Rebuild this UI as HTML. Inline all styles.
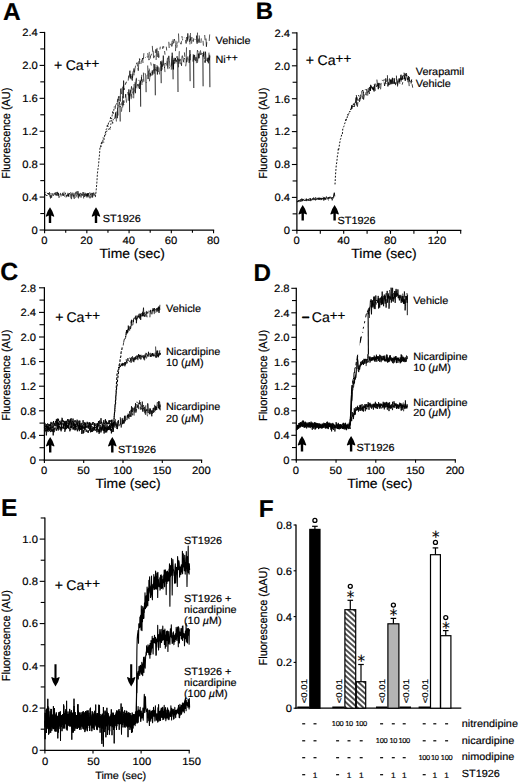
<!DOCTYPE html>
<html><head><meta charset="utf-8"><title>Figure</title><style>html,body{margin:0;padding:0;background:#fff}svg{display:block}text{stroke:#000;stroke-width:.18px}</style></head><body>
<svg width="520" height="783" viewBox="0 0 520 783" font-family='"Liberation Sans", Arial, Helvetica, sans-serif' fill="#000" text-rendering="geometricPrecision">
<rect width="520" height="783" fill="#fff"/>
<text transform="translate(2.90 19.70) scale(1 1)" font-size="24.5" text-anchor="start" font-weight="bold" >A</text>
<line x1="44.60" y1="31.88" x2="44.60" y2="230.60" stroke="#000" stroke-width="1.25"/>
<line x1="44.00" y1="230.00" x2="214.16" y2="230.00" stroke="#000" stroke-width="1.25"/>
<line x1="39.60" y1="230.00" x2="44.60" y2="230.00" stroke="#000" stroke-width="1.1"/>
<text transform="translate(37.80 233.85) scale(1.06 1)" font-size="10.6" text-anchor="end" font-weight="normal" >0</text>
<line x1="40.30" y1="213.54" x2="44.60" y2="213.54" stroke="#000" stroke-width="1.1"/>
<line x1="39.60" y1="197.08" x2="44.60" y2="197.08" stroke="#000" stroke-width="1.1"/>
<text transform="translate(37.80 200.93) scale(1.06 1)" font-size="10.6" text-anchor="end" font-weight="normal" >0.4</text>
<line x1="40.30" y1="180.62" x2="44.60" y2="180.62" stroke="#000" stroke-width="1.1"/>
<line x1="39.60" y1="164.16" x2="44.60" y2="164.16" stroke="#000" stroke-width="1.1"/>
<text transform="translate(37.80 168.01) scale(1.06 1)" font-size="10.6" text-anchor="end" font-weight="normal" >0.8</text>
<line x1="40.30" y1="147.70" x2="44.60" y2="147.70" stroke="#000" stroke-width="1.1"/>
<line x1="39.60" y1="131.24" x2="44.60" y2="131.24" stroke="#000" stroke-width="1.1"/>
<text transform="translate(37.80 135.09) scale(1.06 1)" font-size="10.6" text-anchor="end" font-weight="normal" >1.2</text>
<line x1="40.30" y1="114.78" x2="44.60" y2="114.78" stroke="#000" stroke-width="1.1"/>
<line x1="39.60" y1="98.32" x2="44.60" y2="98.32" stroke="#000" stroke-width="1.1"/>
<text transform="translate(37.80 102.17) scale(1.06 1)" font-size="10.6" text-anchor="end" font-weight="normal" >1.6</text>
<line x1="40.30" y1="81.86" x2="44.60" y2="81.86" stroke="#000" stroke-width="1.1"/>
<line x1="39.60" y1="65.40" x2="44.60" y2="65.40" stroke="#000" stroke-width="1.1"/>
<text transform="translate(37.80 69.25) scale(1.06 1)" font-size="10.6" text-anchor="end" font-weight="normal" >2.0</text>
<line x1="40.30" y1="48.94" x2="44.60" y2="48.94" stroke="#000" stroke-width="1.1"/>
<line x1="39.60" y1="32.48" x2="44.60" y2="32.48" stroke="#000" stroke-width="1.1"/>
<text transform="translate(37.80 36.33) scale(1.06 1)" font-size="10.6" text-anchor="end" font-weight="normal" >2.4</text>
<line x1="44.60" y1="230.00" x2="44.60" y2="233.30" stroke="#000" stroke-width="1.1"/>
<text transform="translate(44.30 243.80) scale(1.06 1)" font-size="10.6" text-anchor="middle" font-weight="normal" >0</text>
<line x1="65.72" y1="230.00" x2="65.72" y2="232.70" stroke="#000" stroke-width="1.1"/>
<line x1="86.84" y1="230.00" x2="86.84" y2="233.30" stroke="#000" stroke-width="1.1"/>
<text transform="translate(86.54 243.80) scale(1.06 1)" font-size="10.6" text-anchor="middle" font-weight="normal" >20</text>
<line x1="107.96" y1="230.00" x2="107.96" y2="232.70" stroke="#000" stroke-width="1.1"/>
<line x1="129.08" y1="230.00" x2="129.08" y2="233.30" stroke="#000" stroke-width="1.1"/>
<text transform="translate(128.78 243.80) scale(1.06 1)" font-size="10.6" text-anchor="middle" font-weight="normal" >40</text>
<line x1="150.20" y1="230.00" x2="150.20" y2="232.70" stroke="#000" stroke-width="1.1"/>
<line x1="171.32" y1="230.00" x2="171.32" y2="233.30" stroke="#000" stroke-width="1.1"/>
<text transform="translate(171.02 243.80) scale(1.06 1)" font-size="10.6" text-anchor="middle" font-weight="normal" >60</text>
<line x1="192.44" y1="230.00" x2="192.44" y2="232.70" stroke="#000" stroke-width="1.1"/>
<line x1="213.56" y1="230.00" x2="213.56" y2="233.30" stroke="#000" stroke-width="1.1"/>
<text transform="translate(213.26 243.80) scale(1.06 1)" font-size="10.6" text-anchor="middle" font-weight="normal" >80</text>
<text transform="translate(10.40 133.20) rotate(-90) scale(1 1.06)" font-size="10.95" text-anchor="middle">Fluorescence (AU)</text>
<text transform="translate(132.20 258.30) scale(1.04 1)" font-size="13.4" text-anchor="middle" font-weight="normal" >Time (sec)</text>
<text transform="translate(53.90 70.00)" font-size="14.1" word-spacing="-0.4">+ Ca<tspan font-size="13.4" dy="-1.9">++</tspan></text>
<text transform="translate(215.50 43.60) scale(1.04 1)" font-size="10.45" text-anchor="start" font-weight="normal" >Vehicle</text>
<text transform="translate(215.50 62.50) scale(1.04 1)" font-size="10.45" text-anchor="start" font-weight="normal" >Ni<tspan font-size="10" dy="-1.7">++</tspan></text>
<text transform="translate(102.80 222.20) scale(1.04 1)" font-size="10.45" text-anchor="start" font-weight="normal" >ST1926</text>
<path d="M50.00 207.20Q52.90 211.10 54.30 216.20L53.80 216.70L51.20 215.60L51.20 223.00L48.80 223.00L48.80 215.60L46.20 216.70L45.70 216.20Q47.10 211.10 50.00 207.20Z" fill="#000"/>
<path d="M96.00 207.20Q98.90 211.10 100.30 216.20L99.80 216.70L97.20 215.60L97.20 223.00L94.80 223.00L94.80 215.60L92.20 216.70L91.70 216.20Q93.10 211.10 96.00 207.20Z" fill="#000"/>
<path d="M44.6 195.0L45.1 193.9L45.5 194.9L46.0 195.1L46.5 196.0L46.9 194.9M47.4 193.0L47.9 194.0L48.3 193.1L48.8 194.2L49.2 194.0L49.7 194.3L50.2 197.1M50.6 193.3L51.1 193.9M51.6 193.9M52.0 197.1M52.5 197.2M53.0 195.9L53.4 195.3M53.9 194.2M54.4 194.7M54.8 193.8M55.3 195.6L55.8 194.2M56.2 194.0L56.7 195.6L57.1 192.1M57.6 193.8L58.1 192.8L58.5 195.5L59.0 195.7M59.5 195.1L59.9 194.8L60.4 193.7L60.9 194.2L61.3 195.3M61.8 196.0M62.3 195.4L62.7 192.8L63.2 195.8L63.7 194.2M64.1 194.0M64.6 196.8L65.0 194.5L65.5 192.7M66.0 197.6L66.4 195.1M66.9 194.8L67.4 195.8L67.8 193.9L68.3 194.7L68.8 196.8L69.2 193.4L69.7 193.6M70.2 193.2L70.6 192.5L71.1 194.1L71.5 194.4L72.0 196.5M72.5 193.7L72.9 195.5L73.4 195.3L73.9 196.5L74.3 196.0L74.8 195.4L75.3 192.7M75.7 197.6L76.2 196.8L76.7 194.3M77.1 192.5M77.6 193.8L78.1 197.4L78.5 198.3L79.0 194.1L79.4 195.7L79.9 196.3L80.4 193.2L80.8 193.0L81.3 194.4L81.8 194.2M82.2 194.0M82.7 192.2M83.2 193.7M83.6 193.8L84.1 193.8L84.6 196.9L85.0 192.7L85.5 193.2L86.0 193.8L86.4 197.5M86.9 195.5L87.3 193.4L87.8 197.3L88.3 194.9L88.7 193.1L89.2 196.6M89.7 192.2L90.1 193.8L90.6 194.8L91.1 194.1L91.5 193.6L92.0 194.4L92.5 192.9L92.9 195.6L93.4 195.2M93.9 193.1M94.3 194.6M94.8 195.9L95.2 193.2" fill="none" stroke="#000" stroke-width="0.65" stroke-linejoin="round"/>
<path d="M45.2 192.7L45.8 192.2L46.3 192.2M46.8 194.9L47.3 195.8M47.9 192.9L48.4 194.4L48.9 194.4L49.5 192.3L50.0 195.0L50.5 198.4L51.0 195.2L51.6 197.7L52.1 193.3L52.6 194.1L53.2 195.6L53.7 194.6L54.2 193.2L54.7 194.5L55.3 192.4L55.8 194.7L56.3 192.9L56.8 192.2L57.4 192.0L57.9 195.7L58.4 193.2L59.0 197.7L59.5 196.4M60.0 197.8M60.5 192.9L61.1 196.6M61.6 194.6M62.1 194.9M62.7 194.7L63.2 195.6L63.7 194.2L64.2 191.7M64.8 194.5L65.3 193.7L65.8 193.0M66.4 194.9L66.9 196.7L67.4 195.5" fill="none" stroke="#000" stroke-width="0.65" stroke-linejoin="round"/>
<path d="M67.8 192.8L68.4 196.1L68.9 193.5L69.4 193.7L69.9 193.1M70.5 194.1L71.0 198.5M71.5 199.2L72.1 192.6M72.6 190.2M73.1 192.7L73.6 196.8L74.2 198.7L74.7 197.8L75.2 192.9L75.8 192.4L76.3 191.6L76.8 194.1L77.3 194.3L77.9 191.1L78.4 192.9L78.9 197.0M79.4 193.4L80.0 196.0L80.5 196.2M81.0 197.8L81.6 194.3L82.1 194.2L82.6 195.6L83.1 192.0L83.7 198.5M84.2 194.6L84.7 194.3L85.3 193.9L85.8 196.0L86.3 196.2L86.8 193.8L87.4 196.0L87.9 193.1L88.4 194.8L89.0 195.7L89.5 198.3M90.0 194.2M90.5 198.3L91.1 192.8M91.6 197.4L92.1 194.5L92.6 197.5L93.2 194.2L93.7 192.6L94.2 195.0L94.8 195.2M95.3 193.2" fill="none" stroke="#000" stroke-width="0.7" stroke-linejoin="round"/>
<path d="M95.3 197.1L95.8 193.9L96.3 189.1L96.9 182.0L97.4 173.6L97.9 169.6L98.5 165.3L99.0 159.2L99.5 154.7L100.0 147.2L100.6 147.3L101.1 143.6L101.6 142.5L102.2 142.9L102.7 142.2L103.2 137.7L103.7 138.3L104.3 138.0L104.8 135.4L105.3 133.7L105.8 130.1L106.4 129.2L106.9 128.4L107.4 124.4L108.0 126.6L108.5 122.6L109.0 122.8L109.5 122.1L110.1 121.1L110.6 116.9L111.1 118.7L111.7 118.7L112.2 115.4L112.7 111.6L113.2 113.8L113.8 110.2L114.3 106.5" fill="none" stroke="#000" stroke-width="0.85" stroke-linejoin="round" stroke-dasharray="2 1.4"/>
<path d="M100.6 147.4L101.2 146.3L101.8 141.3L102.5 143.3L103.1 141.6L103.7 142.4L104.4 136.6L105.0 133.6L105.6 134.5L106.3 133.1L106.9 130.7L107.5 129.6L108.2 129.8L108.8 129.1L109.4 127.5L110.1 129.9L110.7 125.2L111.3 121.3L112.0 119.8L112.6 124.2L113.2 119.7L113.9 118.6" fill="none" stroke="#000" stroke-width="0.8" stroke-linejoin="round" stroke-dasharray="1.6 1.8"/>
<path d="M114.3 111.4M114.7 104.9M115.1 109.0L115.6 105.3L116.0 104.4M116.4 106.9M116.8 102.2M117.3 102.0L117.7 98.8M118.1 101.3L118.5 96.4L118.9 97.8M119.4 97.1M119.8 96.0L120.2 101.5L120.6 88.8M121.1 88.2L121.5 94.1M121.9 98.5M122.3 91.5M122.7 86.7L123.2 98.3L123.6 80.6L124.0 90.0L124.4 88.3M124.9 88.3M125.3 84.0M125.7 83.0L126.1 83.3L126.5 81.7M127.0 84.6M127.4 79.3M127.8 81.9M128.2 80.6L128.7 75.5M129.1 77.5L129.5 75.0L129.9 70.7L130.3 78.4L130.8 74.1L131.2 79.4M131.6 67.7M132.0 77.7M132.5 78.0L132.9 73.8M133.3 66.4M133.7 69.2L134.1 75.3M134.6 67.7M135.0 70.3M135.4 70.1M135.8 60.0M136.3 64.2L136.7 63.2L137.1 62.6L137.5 66.5M138.0 62.3M138.4 64.9M138.8 73.0M139.2 64.0L139.6 58.6M140.1 64.4M140.5 58.7M140.9 64.0L141.3 60.9L141.8 60.6L142.2 59.6L142.6 58.0L143.0 63.0M143.4 59.2L143.9 53.2M144.3 56.3M144.7 59.7M145.1 57.9L145.6 57.3M146.0 56.1M146.4 56.7M146.8 56.0M147.2 56.4L147.7 57.6M148.1 52.8M148.5 52.6M148.9 60.0L149.4 59.1M149.8 54.1M150.2 58.7L150.6 55.8L151.0 55.7L151.5 53.8M151.9 56.1M152.3 45.9L152.7 51.4L153.2 51.1L153.6 58.2M154.0 58.2M154.4 52.7M154.8 50.4M155.3 52.7L155.7 49.2M156.1 60.0L156.5 49.3M157.0 47.9L157.4 57.0M157.8 50.5M158.2 51.0L158.6 52.7L159.1 57.4M159.5 54.7M159.9 49.5L160.3 46.7M160.8 49.7M161.2 44.0M161.6 52.0M162.0 43.6M162.4 55.8M162.9 48.6L163.3 46.8M163.7 45.9M164.1 44.6M164.6 51.0L165.0 54.7M165.4 48.2M165.8 51.9M166.3 46.7L166.7 50.5M167.1 47.5M167.5 46.8M167.9 45.8M168.4 48.5M168.8 41.8L169.2 48.0M169.6 46.1M170.1 43.7L170.5 45.2M170.9 40.3M171.3 45.3M171.7 46.2L172.2 40.8M172.6 42.6M173.0 46.9M173.4 45.5M173.9 43.0L174.3 39.1L174.7 40.6M175.1 43.0M175.5 51.1L176.0 40.8M176.4 46.8M176.8 47.8L177.2 44.7M177.7 41.8L178.1 41.9M178.5 33.5L178.9 42.6M179.3 44.4M179.8 37.7M180.2 40.9M180.6 42.8L181.0 44.2L181.5 41.2M181.9 36.0L182.3 38.6M182.7 41.7M183.1 37.6M183.6 39.7M184.0 44.6M184.4 37.7L184.8 38.1M185.3 34.3M185.7 40.0L186.1 43.5L186.5 37.0M186.9 31.0M187.4 41.5L187.8 33.4L188.2 38.8M188.6 36.8M189.1 39.0L189.5 42.0M189.9 35.6L190.3 40.5L190.8 38.5L191.2 37.3M191.6 43.7L192.0 37.1M192.4 37.8M192.9 40.2L193.3 41.5L193.7 38.3M194.1 38.0M194.6 40.1M195.0 38.8M195.4 39.6M195.8 45.5M196.2 35.7M196.7 36.1L197.1 43.7L197.5 32.6M197.9 40.3M198.4 41.3L198.8 38.5M199.2 35.4L199.6 42.6M200.0 35.7M200.5 39.5M200.9 42.9L201.3 38.4M201.7 41.6M202.2 39.0M202.6 38.1M203.0 40.8L203.4 45.7M203.8 34.3M204.3 34.9M204.7 35.0L205.1 40.2M205.5 38.1M206.0 38.5L206.4 46.7L206.8 42.2M207.2 40.9M207.6 44.5M208.1 40.9M208.5 39.6M208.9 42.5M209.3 46.1M209.8 36.2" fill="none" stroke="#000" stroke-width="0.7" stroke-linejoin="round"/>
<path d="M114.7 108.9M115.3 106.5M115.8 105.8M116.4 104.4L116.9 102.8M117.5 106.7L118.0 100.9M118.6 98.8L119.1 100.7M119.7 96.4M120.2 93.5M120.8 94.6M121.3 86.0M121.9 100.3M122.4 91.2M123.0 95.4L123.5 85.0M124.1 78.6M124.6 94.6M125.2 85.0L125.7 82.8M126.2 84.5M126.8 80.8M127.3 89.1M127.9 77.9M128.4 78.6M129.0 78.8M129.5 79.9M130.1 74.9M130.6 77.7M131.2 74.4M131.7 75.9L132.3 80.6L132.8 72.4L133.4 70.7M133.9 68.0L134.5 72.4L135.0 68.7L135.6 65.6M136.1 66.2M136.7 61.7M137.2 58.6M137.8 67.7L138.3 70.7L138.9 61.1M139.4 58.5L140.0 60.1M140.5 60.0M141.1 64.3M141.6 64.2M142.2 58.6M142.7 64.1M143.3 66.6M143.8 63.5M144.4 51.6M144.9 53.1M145.5 61.3M146.0 61.0M146.6 57.5M147.1 60.3M147.7 53.1L148.2 57.3M148.8 60.2L149.3 51.9M149.9 57.7M150.4 54.7M151.0 55.1M151.5 55.8M152.1 53.4M152.6 56.5M153.2 60.0M153.7 60.9M154.3 57.5L154.8 55.5M155.4 52.8L155.9 52.2M156.5 50.3M157.0 51.4M157.5 54.1M158.1 53.5L158.6 57.9M159.2 51.2M159.7 48.7M160.3 48.2M160.8 50.1M161.4 50.0M161.9 46.0M162.5 48.7L163.0 46.1M163.6 46.3L164.1 47.2M164.7 43.4M165.2 49.3M165.8 48.4M166.3 49.6M166.9 49.4M167.4 41.4M168.0 40.5M168.5 46.0M169.1 43.9M169.6 41.7M170.2 42.7M170.7 41.1M171.3 49.0M171.8 46.7L172.4 42.9M172.9 39.4L173.5 43.6M174.0 46.5M174.6 44.6M175.1 45.4L175.7 45.8M176.2 37.8M176.8 44.5L177.3 42.2M177.9 35.0M178.4 38.0M179.0 40.7M179.5 43.6M180.1 40.1M180.6 35.9M181.2 39.0M181.7 36.8M182.3 40.4L182.8 38.9M183.4 41.1M183.9 38.8M184.5 35.8M185.0 44.6M185.6 40.0M186.1 38.8M186.7 41.3M187.2 40.3L187.8 36.5M188.3 32.5M188.8 37.1M189.4 38.2M189.9 44.4L190.5 33.0M191.0 39.2M191.6 39.6M192.1 43.2M192.7 39.8M193.2 43.3M193.8 39.5M194.3 38.3M194.9 39.8L195.4 39.0M196.0 42.8M196.5 35.4L197.1 42.3M197.6 46.2M198.2 40.9L198.7 42.8M199.3 43.7M199.8 41.6M200.4 39.5M200.9 44.5M201.5 41.1M202.0 36.0M202.6 38.5M203.1 41.3M203.7 40.5M204.2 41.3M204.8 41.2M205.3 38.7M205.9 41.4M206.4 49.1M207.0 41.3M207.5 44.3M208.1 39.2M208.6 43.5M209.2 41.0L209.7 34.4" fill="none" stroke="#000" stroke-width="0.65" stroke-linejoin="round"/>
<path d="M114.3 123.5M114.7 119.6M115.1 118.3L115.6 113.4L116.0 115.5L116.4 121.5M116.8 111.5L117.3 118.2L117.7 107.5L118.1 115.5M118.5 112.7M118.9 112.8M119.4 110.8M119.8 102.6M120.2 103.8L120.6 104.2L121.1 104.7M121.5 111.7L121.9 106.8M122.3 106.3M122.7 107.4L123.2 100.7L123.6 105.2L124.0 104.6M124.4 105.4M124.9 109.1M125.3 97.7L125.7 94.1L126.1 98.4L126.5 102.6M127.0 109.2M127.4 96.8M127.8 92.0L128.2 95.3M128.7 92.2M129.1 89.4M129.5 90.3M129.9 96.3L130.3 89.6M130.8 90.2L131.2 99.2M131.6 94.1L132.0 97.7M132.5 91.8M132.9 88.5L133.3 94.7M133.7 98.3L134.1 84.0M134.6 87.3M135.0 82.2L135.4 93.2L135.8 82.9L136.3 78.2L136.7 78.0M137.1 86.6L137.5 84.3L138.0 85.6M138.4 80.5L138.8 79.9M139.2 83.5L139.6 89.0L140.1 80.0M140.5 84.6M140.9 79.7L141.3 80.8L141.8 74.8M142.2 76.4M142.6 82.5L143.0 78.9M143.4 72.6L143.9 81.7M144.3 77.3M144.7 73.8M145.1 73.2L145.6 75.8M146.0 83.0L146.4 82.3M146.8 75.7L147.2 74.8M147.7 65.5L148.1 79.1L148.5 70.5M148.9 71.6M149.4 81.3L149.8 77.4L150.2 72.9L150.6 75.4L151.0 73.8M151.5 70.9M151.9 75.9L152.3 70.4L152.7 74.7L153.2 74.1M153.6 69.4L154.0 73.7L154.4 69.9L154.8 64.2L155.3 70.4M155.7 70.9M156.1 67.0L156.5 71.3M157.0 65.1L157.4 74.5L157.8 66.5L158.2 70.9L158.6 71.8M159.1 60.9M159.5 71.5M159.9 60.5M160.3 64.7L160.8 61.2L161.2 71.0L161.6 61.8M162.0 60.4L162.4 66.7L162.9 66.4L163.3 55.6L163.7 64.7M164.1 67.0L164.6 67.6L165.0 63.0L165.4 63.3L165.8 63.8M166.3 57.2M166.7 65.5L167.1 62.0L167.5 57.7M167.9 67.7L168.4 59.1L168.8 55.7M169.2 68.6L169.6 67.4L170.1 66.9M170.5 70.1M170.9 60.4M171.3 69.7L171.7 59.9L172.2 55.8M172.6 68.2M173.0 62.7L173.4 69.1L173.9 57.8M174.3 63.9L174.7 61.7L175.1 60.2L175.5 58.0L176.0 61.5M176.4 59.9L176.8 62.0M177.2 59.1M177.7 64.3M178.1 59.1L178.5 67.3M178.9 61.2L179.3 51.2M179.8 58.7L180.2 64.1M180.6 57.8M181.0 62.7L181.5 65.4M181.9 61.6M182.3 55.4L182.7 56.8L183.1 58.6M183.6 62.0L184.0 62.5M184.4 52.4L184.8 56.8M185.3 61.7M185.7 66.3L186.1 63.2L186.5 47.3M186.9 62.1L187.4 57.6M187.8 56.3L188.2 57.8M188.6 58.3L189.1 62.8L189.5 61.4L189.9 50.1L190.3 60.2M190.8 53.6M191.2 64.0M191.6 58.2M192.0 55.9M192.4 52.7M192.9 61.6L193.3 54.5L193.7 55.4M194.1 60.0L194.6 54.9L195.0 60.6M195.4 60.2L195.8 56.9M196.2 68.0M196.7 57.3L197.1 60.9M197.5 62.8L197.9 58.5L198.4 53.6L198.8 58.4L199.2 51.5M199.6 61.5M200.0 62.1M200.5 50.3L200.9 55.0L201.3 52.8M201.7 60.0M202.2 53.3M202.6 55.5M203.0 53.9L203.4 56.5L203.8 51.6L204.3 59.2M204.7 60.5L205.1 62.6L205.5 51.7L206.0 59.5L206.4 60.8M206.8 60.3M207.2 58.3L207.6 61.6L208.1 57.6L208.5 59.0M208.9 58.6L209.3 60.3L209.8 56.2" fill="none" stroke="#000" stroke-width="0.7" stroke-linejoin="round"/>
<path d="M114.5 118.9L115.1 117.3L115.6 111.9M116.2 110.3M116.7 109.4M117.3 110.4M117.8 108.3L118.4 106.3L118.9 104.5L119.4 101.9L120.0 107.1L120.5 106.4M121.1 104.9M121.6 102.5L122.2 105.5L122.7 95.8M123.3 105.9M123.8 100.1L124.4 102.7M124.9 102.3M125.5 99.3M126.0 92.1M126.6 101.9M127.1 101.0M127.7 100.4M128.2 100.6L128.8 89.4L129.3 100.9L129.9 93.7L130.4 92.0L131.0 90.9L131.5 86.4L132.1 89.6M132.6 93.3L133.2 91.3M133.7 87.6L134.3 91.5M134.8 90.5M135.4 86.6L135.9 88.2L136.5 78.7M137.0 87.1M137.6 83.2M138.1 88.4L138.7 84.1M139.2 82.2M139.8 84.5L140.3 81.4M140.9 82.5M141.4 77.0L142.0 85.0M142.5 79.6M143.1 75.7M143.6 80.5M144.2 76.1M144.7 77.6M145.3 74.5M145.8 63.2M146.4 78.0M146.9 75.0M147.5 77.0M148.0 77.8M148.6 66.7M149.1 68.5L149.7 71.8L150.2 76.7M150.7 62.3L151.3 65.5M151.8 71.9L152.4 73.5M152.9 70.1M153.5 63.8L154.0 71.2M154.6 73.6M155.1 71.1M155.7 78.6M156.2 66.4M156.8 68.6M157.3 64.0M157.9 67.3M158.4 66.6M159.0 67.4L159.5 74.4M160.1 67.1M160.6 65.7M161.2 62.1M161.7 63.7L162.3 69.6M162.8 65.8L163.4 64.1M163.9 59.9M164.5 67.0L165.0 72.1M165.6 67.0M166.1 65.7M166.7 58.0M167.2 61.2L167.8 69.2M168.3 59.8M168.9 56.1L169.4 60.4L170.0 66.7M170.5 55.7M171.1 59.1M171.6 65.6L172.2 52.7L172.7 60.6L173.3 69.5L173.8 59.8M174.4 61.1L174.9 57.9L175.5 58.4L176.0 63.5M176.6 57.8L177.1 56.2L177.7 59.8L178.2 59.6M178.8 63.7L179.3 59.7M179.9 61.1L180.4 59.1M181.0 60.4M181.5 66.0L182.0 56.1M182.6 61.1M183.1 59.2L183.7 62.0L184.2 58.0L184.8 59.3M185.3 50.6M185.9 64.9M186.4 62.4L187.0 57.2M187.5 62.2M188.1 58.1M188.6 46.5M189.2 55.7M189.7 56.7L190.3 54.5L190.8 54.6M191.4 55.2M191.9 56.6M192.5 57.9M193.0 51.7M193.6 53.3M194.1 56.7M194.7 56.2M195.2 61.3L195.8 60.0M196.3 63.2L196.9 57.7L197.4 50.2L198.0 51.8M198.5 57.0M199.1 58.0L199.6 53.3M200.2 53.3M200.7 60.0M201.3 56.7M201.8 53.6L202.4 53.7L202.9 53.0M203.5 52.4L204.0 55.1M204.6 58.3M205.1 62.6L205.7 59.5M206.2 52.5M206.8 49.8M207.3 52.7M207.9 58.0L208.4 63.3L209.0 52.6M209.5 60.4" fill="none" stroke="#000" stroke-width="0.65" stroke-linejoin="round"/>
<path d="M120.0 106.0L120.2 121.5" stroke="#000" stroke-width="0.85" fill="none"/>
<path d="M129.4 93.5L129.6 112.1" stroke="#000" stroke-width="0.85" fill="none"/>
<path d="M140.5 81.0L140.7 106.7" stroke="#000" stroke-width="0.85" fill="none"/>
<path d="M145.9 76.0L146.1 92.2" stroke="#000" stroke-width="0.85" fill="none"/>
<path d="M155.1 69.0L155.3 95.3" stroke="#000" stroke-width="0.85" fill="none"/>
<path d="M161.0 65.4L161.2 83.2" stroke="#000" stroke-width="0.85" fill="none"/>
<path d="M172.9 59.8L173.1 79.3" stroke="#000" stroke-width="0.85" fill="none"/>
<path d="M177.8 57.8L178.0 92.0" stroke="#000" stroke-width="0.85" fill="none"/>
<path d="M189.9 55.4L190.1 81.2" stroke="#000" stroke-width="0.85" fill="none"/>
<path d="M193.6 55.3L193.8 88.0" stroke="#000" stroke-width="0.85" fill="none"/>
<path d="M202.9 54.9L203.1 86.3" stroke="#000" stroke-width="0.85" fill="none"/>
<path d="M209.7 54.7L209.9 87.2" stroke="#000" stroke-width="0.85" fill="none"/>
<text transform="translate(255.70 18.80) scale(1 1)" font-size="24" text-anchor="start" font-weight="bold" >B</text>
<line x1="296.90" y1="32.30" x2="296.90" y2="230.90" stroke="#000" stroke-width="1.25"/>
<line x1="296.30" y1="230.30" x2="461.30" y2="230.30" stroke="#000" stroke-width="1.25"/>
<line x1="291.90" y1="230.30" x2="296.90" y2="230.30" stroke="#000" stroke-width="1.1"/>
<text transform="translate(290.10 234.15) scale(1.06 1)" font-size="10.6" text-anchor="end" font-weight="normal" >0</text>
<line x1="292.60" y1="213.85" x2="296.90" y2="213.85" stroke="#000" stroke-width="1.1"/>
<line x1="291.90" y1="197.40" x2="296.90" y2="197.40" stroke="#000" stroke-width="1.1"/>
<text transform="translate(290.10 201.25) scale(1.06 1)" font-size="10.6" text-anchor="end" font-weight="normal" >0.4</text>
<line x1="292.60" y1="180.95" x2="296.90" y2="180.95" stroke="#000" stroke-width="1.1"/>
<line x1="291.90" y1="164.50" x2="296.90" y2="164.50" stroke="#000" stroke-width="1.1"/>
<text transform="translate(290.10 168.35) scale(1.06 1)" font-size="10.6" text-anchor="end" font-weight="normal" >0.8</text>
<line x1="292.60" y1="148.05" x2="296.90" y2="148.05" stroke="#000" stroke-width="1.1"/>
<line x1="291.90" y1="131.60" x2="296.90" y2="131.60" stroke="#000" stroke-width="1.1"/>
<text transform="translate(290.10 135.45) scale(1.06 1)" font-size="10.6" text-anchor="end" font-weight="normal" >1.2</text>
<line x1="292.60" y1="115.15" x2="296.90" y2="115.15" stroke="#000" stroke-width="1.1"/>
<line x1="291.90" y1="98.70" x2="296.90" y2="98.70" stroke="#000" stroke-width="1.1"/>
<text transform="translate(290.10 102.55) scale(1.06 1)" font-size="10.6" text-anchor="end" font-weight="normal" >1.6</text>
<line x1="292.60" y1="82.25" x2="296.90" y2="82.25" stroke="#000" stroke-width="1.1"/>
<line x1="291.90" y1="65.80" x2="296.90" y2="65.80" stroke="#000" stroke-width="1.1"/>
<text transform="translate(290.10 69.65) scale(1.06 1)" font-size="10.6" text-anchor="end" font-weight="normal" >2.0</text>
<line x1="292.60" y1="49.35" x2="296.90" y2="49.35" stroke="#000" stroke-width="1.1"/>
<line x1="291.90" y1="32.90" x2="296.90" y2="32.90" stroke="#000" stroke-width="1.1"/>
<text transform="translate(290.10 36.75) scale(1.06 1)" font-size="10.6" text-anchor="end" font-weight="normal" >2.4</text>
<line x1="296.90" y1="230.30" x2="296.90" y2="233.80" stroke="#000" stroke-width="1.1"/>
<text transform="translate(296.60 244.10) scale(1.06 1)" font-size="10.6" text-anchor="middle" font-weight="normal" >0</text>
<line x1="320.30" y1="230.30" x2="320.30" y2="233.80" stroke="#000" stroke-width="1.1"/>
<line x1="343.70" y1="230.30" x2="343.70" y2="233.80" stroke="#000" stroke-width="1.1"/>
<text transform="translate(343.40 244.10) scale(1.06 1)" font-size="10.6" text-anchor="middle" font-weight="normal" >40</text>
<line x1="367.10" y1="230.30" x2="367.10" y2="233.80" stroke="#000" stroke-width="1.1"/>
<line x1="390.50" y1="230.30" x2="390.50" y2="233.80" stroke="#000" stroke-width="1.1"/>
<text transform="translate(390.20 244.10) scale(1.06 1)" font-size="10.6" text-anchor="middle" font-weight="normal" >80</text>
<line x1="413.90" y1="230.30" x2="413.90" y2="233.80" stroke="#000" stroke-width="1.1"/>
<line x1="437.30" y1="230.30" x2="437.30" y2="233.80" stroke="#000" stroke-width="1.1"/>
<text transform="translate(437.00 244.10) scale(1.06 1)" font-size="10.6" text-anchor="middle" font-weight="normal" >120</text>
<line x1="460.70" y1="230.30" x2="460.70" y2="233.80" stroke="#000" stroke-width="1.1"/>
<text transform="translate(267.40 133.20) rotate(-90) scale(1 1.06)" font-size="10.95" text-anchor="middle">Fluorescence (AU)</text>
<text transform="translate(384.00 258.30) scale(1.04 1)" font-size="13.4" text-anchor="middle" font-weight="normal" >Time (sec)</text>
<text transform="translate(305.70 64.50)" font-size="14.1" word-spacing="-0.3">+ Ca<tspan font-size="13.4" dy="-1.9">++</tspan></text>
<text transform="translate(415.80 74.70) scale(1.04 1)" font-size="10.45" text-anchor="start" font-weight="normal" >Verapamil</text>
<text transform="translate(415.80 86.50) scale(1.04 1)" font-size="10.45" text-anchor="start" font-weight="normal" >Vehicle</text>
<text transform="translate(337.60 224.30) scale(1.04 1)" font-size="10.45" text-anchor="start" font-weight="normal" >ST1926</text>
<path d="M302.70 205.10Q305.60 209.00 307.00 214.10L306.50 214.60L303.90 213.50L303.90 220.60L301.50 220.60L301.50 213.50L298.90 214.60L298.40 214.10Q299.80 209.00 302.70 205.10Z" fill="#000"/>
<path d="M334.60 205.10Q337.50 209.00 338.90 214.10L338.40 214.60L335.80 213.50L335.80 220.60L333.40 220.60L333.40 213.50L330.80 214.60L330.30 214.10Q331.70 209.00 334.60 205.10Z" fill="#000"/>
<path d="M296.9 201.6L297.4 201.8L297.8 201.0L298.3 201.4L298.8 200.0L299.2 201.4L299.7 200.7M300.2 200.1L300.6 199.4L301.1 201.1L301.6 200.9M302.0 199.2L302.5 200.4L303.0 199.5L303.5 200.1L303.9 200.1L304.4 200.9L304.9 200.2L305.3 200.2M305.8 200.6L306.3 198.6L306.7 201.1L307.2 200.6L307.7 199.6M308.1 199.0L308.6 200.5L309.1 200.0L309.5 200.4L310.0 200.5L310.5 198.6L310.9 199.7L311.4 200.0L311.9 199.4L312.3 198.8L312.8 198.4L313.3 199.2L313.7 199.2L314.2 198.9L314.7 198.5L315.2 198.8L315.6 200.3L316.1 199.1L316.6 199.5L317.0 197.8L317.5 199.0L318.0 199.7L318.4 197.9L318.9 199.3L319.4 198.6L319.8 199.0L320.3 198.5L320.8 198.0L321.2 199.4L321.7 199.3L322.2 198.0L322.6 198.9L323.1 198.5L323.6 197.8L324.0 199.3L324.5 197.7L325.0 198.7M325.4 198.9L325.9 198.9L326.4 196.6L326.9 197.8L327.3 197.9M327.8 198.8L328.3 197.0L328.7 199.1L329.2 198.5L329.7 197.1M330.1 197.2L330.6 198.3L331.1 197.4L331.5 198.2L332.0 198.9L332.5 197.1L332.9 197.7L333.4 197.1L333.9 194.7L334.3 192.7L334.8 196.4" fill="none" stroke="#000" stroke-width="0.8" stroke-linejoin="round"/>
<path d="M297.1 202.2L297.6 201.4L298.1 200.9L298.5 201.7L299.0 202.2M299.5 201.4L299.9 199.8L300.4 201.4L300.9 201.8L301.3 200.4L301.8 198.5L302.3 201.2L302.8 199.2L303.2 200.1L303.7 199.8L304.2 198.8M304.6 201.0L305.1 200.2L305.6 200.4L306.0 199.5L306.5 199.9L307.0 199.7M307.4 199.2L307.9 200.1L308.4 199.7L308.8 200.4L309.3 198.5L309.8 199.0M310.2 198.0L310.7 201.1L311.2 200.3L311.6 199.6M312.1 198.5L312.6 199.9M313.0 200.3L313.5 197.6L314.0 199.4M314.4 199.2L314.9 200.1L315.4 197.4L315.9 198.7M316.3 199.5M316.8 199.4M317.3 199.1L317.7 198.6L318.2 198.9M318.7 199.7L319.1 197.6L319.6 199.8L320.1 197.6M320.5 198.1L321.0 200.1L321.5 197.8M321.9 198.4L322.4 199.4M322.9 196.7L323.3 197.4L323.8 200.6L324.3 197.5L324.7 199.1L325.2 200.0L325.7 197.8L326.1 199.6M326.6 198.7M327.1 198.2L327.6 198.6L328.0 199.3L328.5 200.5M329.0 198.4L329.4 197.0L329.9 196.9L330.4 196.6M330.8 197.6L331.3 197.7L331.8 198.7L332.2 200.4L332.7 198.6M333.2 198.6L333.6 197.9L334.1 193.7L334.6 194.0" fill="none" stroke="#000" stroke-width="0.7" stroke-linejoin="round"/>
<path d="M335.0 184.4L335.5 175.2L335.9 169.9L336.3 164.5L336.7 163.0L337.1 159.2L337.5 154.8L337.9 153.8L338.3 148.2L338.7 149.5L339.1 147.2L339.5 144.0L340.0 141.5L340.4 139.3L340.8 138.4L341.2 136.6L341.6 135.0L342.0 133.7L342.4 133.9L342.8 128.9L343.2 128.0L343.6 126.7L344.1 126.2L344.5 124.1L344.9 123.1L345.3 122.0L345.7 119.6L346.1 121.1L346.5 118.3L346.9 118.6L347.3 116.9L347.7 114.3L348.1 115.8L348.6 113.9L349.0 113.5L349.4 111.1L349.8 111.9L350.2 111.7L350.6 109.0" fill="none" stroke="#000" stroke-width="0.95" stroke-linejoin="round" stroke-dasharray="1.8 1.6"/>
<path d="M350.7 110.0L351.2 109.2L351.7 105.3L352.1 108.9M352.6 107.0M353.1 105.1L353.5 103.7L354.0 105.0M354.5 100.9M354.9 97.7M355.4 103.0L355.9 97.4M356.3 105.6L356.8 97.3L357.3 100.6M357.7 98.9M358.2 99.4M358.7 99.5L359.1 100.4L359.6 97.8M360.1 93.5M360.5 93.3M361.0 96.1M361.5 96.1L362.0 96.2M362.4 96.9M362.9 89.9M363.4 92.1L363.8 93.0M364.3 94.0M364.8 94.8M365.2 89.3L365.7 90.1M366.2 93.6M366.6 89.0L367.1 93.3M367.6 89.1M368.0 92.4L368.5 90.9M369.0 88.7L369.4 88.5L369.9 87.0L370.4 90.9L370.8 85.3M371.3 85.6L371.8 88.3L372.2 87.0L372.7 89.5L373.2 87.9L373.7 90.2L374.1 86.9M374.6 86.4M375.1 83.6L375.5 84.2L376.0 84.3L376.5 86.7L376.9 86.1M377.4 86.1L377.9 84.6L378.3 89.2L378.8 82.9L379.3 87.9M379.7 85.3L380.2 83.9M380.7 84.8M381.1 79.8M381.6 83.6M382.1 79.9L382.5 80.7M383.0 84.3M383.5 82.3M383.9 80.3M384.4 83.8M384.9 82.8M385.4 84.2M385.8 82.8L386.3 83.6M386.8 82.6M387.2 80.5L387.7 79.6M388.2 82.3M388.6 82.1M389.1 80.5M389.6 83.0M390.0 84.6L390.5 79.7L391.0 84.2L391.4 80.0M391.9 84.1L392.4 77.8L392.8 84.1M393.3 79.8M393.8 78.3L394.2 83.7L394.7 78.2M395.2 83.2L395.6 85.2M396.1 79.6L396.6 79.6M397.1 81.5M397.5 86.5L398.0 80.7M398.5 81.0M398.9 80.9M399.4 80.4M399.9 83.5M400.3 80.5L400.8 75.0M401.3 75.3M401.7 79.2M402.2 79.7L402.7 77.0L403.1 75.2L403.6 75.7M404.1 79.6L404.5 76.4L405.0 76.2L405.5 73.6M405.9 74.4L406.4 76.2L406.9 75.0M407.3 78.9M407.8 74.9M408.3 79.5L408.8 78.0L409.2 77.2L409.7 81.5L410.2 81.3M410.6 84.0M411.1 80.0L411.6 80.8L412.0 81.7M412.5 80.2" fill="none" stroke="#000" stroke-width="0.85" stroke-linejoin="round"/>
<path d="M351.1 109.1L351.6 107.0M352.1 107.6L352.7 105.6L353.2 106.8M353.7 106.0L354.2 107.0L354.8 102.7M355.3 102.3M355.8 98.6M356.3 95.0L356.9 99.8M357.4 106.8L357.9 102.1M358.4 95.0L359.0 96.5M359.5 97.5M360.0 98.8L360.5 94.6M361.1 94.4M361.6 92.1L362.1 91.0L362.7 90.0L363.2 91.1L363.7 96.2M364.2 91.4M364.8 95.4L365.3 93.9L365.8 93.7M366.3 94.4M366.9 93.1M367.4 86.8M367.9 90.5M368.4 85.9M369.0 89.4L369.5 94.0M370.0 90.8L370.6 84.7M371.1 85.8M371.6 88.8M372.1 88.7M372.7 84.7M373.2 86.3L373.7 87.8M374.2 84.0L374.8 86.6M375.3 89.0M375.8 90.0M376.3 91.1M376.9 79.6L377.4 84.8M377.9 80.7M378.4 84.3L379.0 84.2L379.5 83.7L380.0 83.3M380.6 87.1M381.1 83.5M381.6 80.8M382.1 77.7M382.7 84.3M383.2 82.1M383.7 81.3L384.2 79.2M384.8 81.6M385.3 83.7L385.8 78.4L386.3 82.0M386.9 82.4M387.4 75.2L387.9 86.4L388.5 82.5L389.0 85.1L389.5 78.4M390.0 84.5M390.6 81.6M391.1 81.0L391.6 82.7M392.1 82.0M392.7 82.8M393.2 83.3M393.7 83.7L394.2 80.9M394.8 82.1L395.3 83.8L395.8 82.3M396.4 75.6L396.9 84.2M397.4 82.3M397.9 82.0M398.5 80.4M399.0 78.0L399.5 81.5L400.0 78.6L400.6 77.8M401.1 74.5L401.6 79.9M402.1 79.9L402.7 76.0M403.2 77.6M403.7 78.6L404.2 77.6M404.8 73.2L405.3 80.7L405.8 77.5M406.4 73.0L406.9 76.7L407.4 79.9M407.9 79.8L408.5 76.1L409.0 77.8M409.5 80.4L410.0 81.2M410.6 83.3M411.1 83.7L411.6 79.7L412.1 79.7M412.7 82.6" fill="none" stroke="#000" stroke-width="0.8" stroke-linejoin="round"/>
<path d="M355.4 105.4M356.0 103.5M356.6 103.8L357.2 102.9M357.7 98.5M358.3 101.7M358.9 100.0L359.5 101.7L360.1 99.8L360.7 97.1M361.2 93.3M361.8 92.0L362.4 98.9M363.0 96.0L363.6 99.5L364.2 95.4M364.8 94.1M365.3 92.3M365.9 92.1L366.5 95.4M367.1 95.4M367.7 95.6L368.3 87.9M368.9 94.5M369.4 88.8L370.0 90.2L370.6 88.3M371.2 94.2M371.8 88.9L372.4 88.6M372.9 89.3M373.5 87.9L374.1 91.5L374.7 84.9L375.3 90.8M375.9 88.2M376.5 85.4M377.0 85.9M377.6 83.1L378.2 86.7M378.8 89.0M379.4 85.1M380.0 84.4M380.6 89.3L381.1 82.9M381.7 82.0M382.3 87.0M382.9 82.7M383.5 84.6M384.1 82.4L384.6 86.0L385.2 82.6L385.8 82.9M386.4 84.3M387.0 85.2M387.6 84.7M388.2 82.5M388.7 80.6M389.3 84.4M389.9 81.8M390.5 83.6M391.1 79.1L391.7 80.7M392.3 81.6L392.8 82.4M393.4 84.6M394.0 87.1M394.6 81.1M395.2 84.8M395.8 84.5M396.3 80.3M396.9 82.0M397.5 85.1L398.1 79.3M398.7 82.5L399.3 79.1L399.9 83.8M400.4 84.4M401.0 81.9L401.6 78.2M402.2 84.7L402.8 82.1M403.4 76.7M404.0 72.6L404.5 79.0M405.1 80.5L405.7 79.7M406.3 80.9M406.9 75.6M407.5 77.9L408.0 82.3M408.6 78.4L409.2 86.1M409.8 81.1L410.4 81.6L411.0 82.5M411.6 84.6M412.1 84.2L412.7 87.7" fill="none" stroke="#000" stroke-width="0.75" stroke-linejoin="round"/>
<text transform="translate(0.30 279.50) scale(1 1)" font-size="24.8" text-anchor="start" font-weight="bold" >C</text>
<line x1="44.40" y1="287.20" x2="44.40" y2="460.60" stroke="#000" stroke-width="1.25"/>
<line x1="43.80" y1="460.00" x2="202.20" y2="460.00" stroke="#000" stroke-width="1.25"/>
<line x1="39.00" y1="460.00" x2="44.40" y2="460.00" stroke="#000" stroke-width="1.1"/>
<text transform="translate(36.10 463.85) scale(1.06 1)" font-size="10.6" text-anchor="end" font-weight="normal" >0</text>
<line x1="39.50" y1="447.70" x2="44.40" y2="447.70" stroke="#000" stroke-width="1.1"/>
<line x1="39.00" y1="435.40" x2="44.40" y2="435.40" stroke="#000" stroke-width="1.1"/>
<text transform="translate(36.10 439.25) scale(1.06 1)" font-size="10.6" text-anchor="end" font-weight="normal" >0.4</text>
<line x1="39.50" y1="423.10" x2="44.40" y2="423.10" stroke="#000" stroke-width="1.1"/>
<line x1="39.00" y1="410.80" x2="44.40" y2="410.80" stroke="#000" stroke-width="1.1"/>
<text transform="translate(36.10 414.65) scale(1.06 1)" font-size="10.6" text-anchor="end" font-weight="normal" >0.8</text>
<line x1="39.50" y1="398.50" x2="44.40" y2="398.50" stroke="#000" stroke-width="1.1"/>
<line x1="39.00" y1="386.20" x2="44.40" y2="386.20" stroke="#000" stroke-width="1.1"/>
<text transform="translate(36.10 390.05) scale(1.06 1)" font-size="10.6" text-anchor="end" font-weight="normal" >1.2</text>
<line x1="39.50" y1="373.90" x2="44.40" y2="373.90" stroke="#000" stroke-width="1.1"/>
<line x1="39.00" y1="361.60" x2="44.40" y2="361.60" stroke="#000" stroke-width="1.1"/>
<text transform="translate(36.10 365.45) scale(1.06 1)" font-size="10.6" text-anchor="end" font-weight="normal" >1.6</text>
<line x1="39.50" y1="349.30" x2="44.40" y2="349.30" stroke="#000" stroke-width="1.1"/>
<line x1="39.00" y1="337.00" x2="44.40" y2="337.00" stroke="#000" stroke-width="1.1"/>
<text transform="translate(36.10 340.85) scale(1.06 1)" font-size="10.6" text-anchor="end" font-weight="normal" >2.0</text>
<line x1="39.50" y1="324.70" x2="44.40" y2="324.70" stroke="#000" stroke-width="1.1"/>
<line x1="39.00" y1="312.40" x2="44.40" y2="312.40" stroke="#000" stroke-width="1.1"/>
<text transform="translate(36.10 316.25) scale(1.06 1)" font-size="10.6" text-anchor="end" font-weight="normal" >2.4</text>
<line x1="39.50" y1="300.10" x2="44.40" y2="300.10" stroke="#000" stroke-width="1.1"/>
<line x1="39.00" y1="287.80" x2="44.40" y2="287.80" stroke="#000" stroke-width="1.1"/>
<text transform="translate(36.10 291.65) scale(1.06 1)" font-size="10.6" text-anchor="end" font-weight="normal" >2.8</text>
<line x1="44.40" y1="460.00" x2="44.40" y2="462.90" stroke="#000" stroke-width="1.1"/>
<text transform="translate(44.10 473.60) scale(1.06 1)" font-size="10.6" text-anchor="middle" font-weight="normal" >0</text>
<line x1="83.70" y1="460.00" x2="83.70" y2="462.90" stroke="#000" stroke-width="1.1"/>
<text transform="translate(83.40 473.60) scale(1.06 1)" font-size="10.6" text-anchor="middle" font-weight="normal" >50</text>
<line x1="123.00" y1="460.00" x2="123.00" y2="462.90" stroke="#000" stroke-width="1.1"/>
<text transform="translate(122.70 473.60) scale(1.06 1)" font-size="10.6" text-anchor="middle" font-weight="normal" >100</text>
<line x1="162.30" y1="460.00" x2="162.30" y2="462.90" stroke="#000" stroke-width="1.1"/>
<text transform="translate(162.00 473.60) scale(1.06 1)" font-size="10.6" text-anchor="middle" font-weight="normal" >150</text>
<line x1="201.60" y1="460.00" x2="201.60" y2="462.90" stroke="#000" stroke-width="1.1"/>
<text transform="translate(201.30 473.60) scale(1.06 1)" font-size="10.6" text-anchor="middle" font-weight="normal" >200</text>
<text transform="translate(10.40 375.20) rotate(-90) scale(1 1.06)" font-size="10.95" text-anchor="middle">Fluorescence (AU)</text>
<text transform="translate(128.10 487.60) scale(1.04 1)" font-size="13.4" text-anchor="middle" font-weight="normal" >Time (sec)</text>
<text transform="translate(55.30 321.50)" font-size="14.1" word-spacing="-1.0">+ Ca<tspan font-size="13.4" dy="-1.9">++</tspan></text>
<text transform="translate(166.00 311.80) scale(1.04 1)" font-size="10.45" text-anchor="start" font-weight="normal" >Vehicle</text>
<text transform="translate(166.00 354.60) scale(1.04 1)" font-size="10.45" text-anchor="start" font-weight="normal" >Nicardipine</text>
<text transform="translate(166.00 366.20) scale(1.04 1)" font-size="10.45" text-anchor="start" font-weight="normal" >10 (<tspan font-style="italic">µ</tspan>M)</text>
<text transform="translate(166.00 409.80) scale(1.04 1)" font-size="10.45" text-anchor="start" font-weight="normal" >Nicardipine</text>
<text transform="translate(166.00 421.50) scale(1.04 1)" font-size="10.45" text-anchor="start" font-weight="normal" >20 (<tspan font-style="italic">µ</tspan>M)</text>
<text transform="translate(118.00 453.40) scale(1.04 1)" font-size="10.45" text-anchor="start" font-weight="normal" >ST1926</text>
<path d="M50.20 436.90Q53.10 440.80 54.50 445.90L54.00 446.40L51.40 445.30L51.40 452.40L49.00 452.40L49.00 445.30L46.40 446.40L45.90 445.90Q47.30 440.80 50.20 436.90Z" fill="#000"/>
<path d="M112.30 436.90Q115.20 440.80 116.60 445.90L116.10 446.40L113.50 445.30L113.50 452.40L111.10 452.40L111.10 445.30L108.50 446.40L108.00 445.90Q109.40 440.80 112.30 436.90Z" fill="#000"/>
<path d="M44.4 430.3L44.7 430.0L45.0 431.7L45.3 430.4L45.7 430.5L46.0 430.0L46.3 435.4L46.6 433.3L46.9 429.5L47.2 431.1L47.5 426.9L47.9 431.3L48.2 431.8L48.5 428.2L48.8 429.8L49.1 427.4L49.4 429.9L49.7 431.1L50.1 429.4L50.4 432.1L50.7 431.5L51.0 431.7L51.3 431.0L51.6 429.2L51.9 431.5L52.3 430.0L52.6 431.5L52.9 429.0L53.2 435.4L53.5 430.9L53.8 430.2L54.1 432.2L54.5 428.3L54.8 429.5L55.1 427.4L55.4 427.7L55.7 428.1L56.0 429.3L56.3 430.8L56.7 429.0L57.0 429.3L57.3 427.8L57.6 428.8L57.9 422.4L58.2 430.5L58.5 425.3L58.9 428.3L59.2 427.9L59.5 425.8L59.8 427.5L60.1 429.7L60.4 426.8L60.7 427.9L61.1 431.3L61.4 427.3L61.7 429.5L62.0 429.0L62.3 426.8L62.6 427.2L62.9 428.2L63.3 423.9L63.6 427.0L63.9 428.9L64.2 427.4L64.5 428.0L64.8 431.8L65.2 430.7L65.5 430.4L65.8 424.2L66.1 428.3L66.4 428.5L66.7 429.0L67.0 426.3L67.4 428.0L67.7 425.0L68.0 426.7L68.3 425.2L68.6 428.3L68.9 427.5L69.2 428.9L69.6 428.5L69.9 431.3L70.2 429.3L70.5 429.9L70.8 429.4L71.1 426.1L71.4 427.9L71.8 426.2L72.1 426.8L72.4 426.8L72.7 426.6L73.0 429.5L73.3 427.0L73.6 429.1L74.0 429.4L74.3 426.4L74.6 424.7L74.9 430.3L75.2 425.5L75.5 427.1L75.8 430.1L76.2 428.2L76.5 428.1L76.8 428.2L77.1 429.6L77.4 431.3L77.7 429.0L78.0 427.6L78.4 427.8L78.7 428.1L79.0 427.4L79.3 431.2L79.6 429.6L79.9 429.0L80.2 427.9L80.6 429.5L80.9 428.9L81.2 429.7L81.5 426.2L81.8 433.9L82.1 430.2L82.4 425.8L82.8 429.8L83.1 433.6L83.4 430.2L83.7 433.0L84.0 431.7L84.3 430.1L84.6 427.4L85.0 429.6L85.3 429.2L85.6 428.6L85.9 430.0L86.2 431.9L86.5 430.5L86.8 429.8L87.2 430.8L87.5 431.5L87.8 430.9L88.1 433.0L88.4 432.1L88.7 430.4L89.0 430.9L89.4 430.2L89.7 427.7L90.0 429.7L90.3 430.3L90.6 432.3L90.9 432.1L91.2 429.5L91.6 431.7L91.9 429.4L92.2 432.0L92.5 429.9L92.8 430.2L93.1 428.3L93.4 430.8L93.8 430.7L94.1 429.6L94.4 429.9L94.7 427.0L95.0 430.5L95.3 431.0L95.6 430.6L96.0 429.1L96.3 429.5L96.6 428.7L96.9 432.4L97.2 425.5L97.5 426.6L97.8 430.0L98.2 432.0L98.5 429.6L98.8 429.1L99.1 433.8L99.4 429.8L99.7 432.4L100.0 429.0L100.4 427.3L100.7 427.9L101.0 432.4L101.3 427.3L101.6 428.1L101.9 430.4L102.2 428.8L102.6 427.0L102.9 430.3L103.2 429.7L103.5 430.7L103.8 427.6L104.1 433.5L104.5 427.1L104.8 431.3L105.1 428.0L105.4 432.5L105.7 431.2L106.0 430.6L106.3 428.1L106.7 432.4L107.0 428.5L107.3 430.6L107.6 427.3L107.9 430.0L108.2 428.6L108.5 429.8L108.9 426.3L109.2 430.1L109.5 429.5L109.8 425.9L110.1 429.3L110.4 428.2L110.7 430.7L111.1 429.0L111.4 433.4L111.7 429.1L112.0 430.5L112.3 432.0L112.6 431.8L112.9 427.2L113.3 428.5L113.6 431.9" fill="none" stroke="#000" stroke-width="0.9" stroke-linejoin="round"/>
<path d="M44.4 424.8L44.7 429.2L45.0 428.6L45.3 427.5L45.7 430.0L46.0 430.8L46.3 429.2L46.6 425.8L46.9 426.2L47.2 430.6L47.5 425.7L47.9 427.7L48.2 426.9L48.5 427.7L48.8 427.0L49.1 429.5L49.4 429.3L49.7 428.9L50.1 428.3L50.4 426.5L50.7 429.8L51.0 424.8L51.3 428.7L51.6 428.6L51.9 426.3L52.3 426.7L52.6 428.1L52.9 429.4L53.2 429.2L53.5 430.3L53.8 425.4L54.1 425.3L54.5 423.7L54.8 425.9L55.1 426.0L55.4 425.0L55.7 424.5L56.0 426.4L56.3 425.1L56.7 421.7L57.0 428.4L57.3 427.6L57.6 426.7L57.9 423.4L58.2 422.4L58.5 424.9L58.9 423.2L59.2 424.5L59.5 423.9L59.8 425.4L60.1 424.5L60.4 424.5L60.7 422.5L61.1 420.5L61.4 427.8L61.7 423.6L62.0 424.6L62.3 422.9L62.6 422.7L62.9 423.3L63.3 423.2L63.6 426.4L63.9 427.7L64.2 421.8L64.5 422.6L64.8 426.5L65.2 422.5L65.5 423.6L65.8 429.2L66.1 423.3L66.4 426.6L66.7 422.8L67.0 426.1L67.4 426.3L67.7 427.7L68.0 425.4L68.3 423.2L68.6 426.2L68.9 428.4L69.2 421.3L69.6 421.8L69.9 423.9L70.2 426.1L70.5 427.3L70.8 428.1L71.1 424.2L71.4 422.9L71.8 427.2L72.1 425.3L72.4 425.8L72.7 425.8L73.0 424.5L73.3 421.7L73.6 426.5L74.0 423.9L74.3 423.5L74.6 426.0L74.9 425.8L75.2 427.9L75.5 423.6L75.8 426.5L76.2 426.8L76.5 425.6L76.8 427.3L77.1 427.7L77.4 426.5L77.7 423.4L78.0 426.4L78.4 425.2L78.7 428.8L79.0 429.8L79.3 423.1L79.6 427.2L79.9 429.3L80.2 426.8L80.6 425.6L80.9 429.8L81.2 428.4L81.5 426.4L81.8 428.6L82.1 425.6L82.4 425.4L82.8 426.4L83.1 428.0L83.4 427.4L83.7 428.5L84.0 427.6L84.3 426.8L84.6 427.9L85.0 425.6L85.3 422.7L85.6 428.3L85.9 426.7L86.2 425.8L86.5 426.1L86.8 427.7L87.2 428.1L87.5 425.5L87.8 426.1L88.1 426.3L88.4 428.6L88.7 426.1L89.0 425.8L89.4 427.5L89.7 426.0L90.0 423.3L90.3 430.5L90.6 426.0L90.9 429.2L91.2 429.5L91.6 427.5L91.9 426.1L92.2 427.0L92.5 429.1L92.8 429.6L93.1 428.0L93.4 427.0L93.8 428.5L94.1 429.7L94.4 423.8L94.7 428.4L95.0 427.2L95.3 427.9L95.6 428.0L96.0 426.8L96.3 427.4L96.6 425.8L96.9 429.0L97.2 429.5L97.5 423.4L97.8 427.0L98.2 425.4L98.5 424.7L98.8 425.8L99.1 426.7L99.4 429.5L99.7 429.6L100.0 425.0L100.4 425.5L100.7 425.7L101.0 429.7L101.3 430.5L101.6 428.6L101.9 428.8L102.2 426.4L102.6 428.5L102.9 423.8L103.2 427.7L103.5 427.6L103.8 425.0L104.1 426.0L104.5 428.2L104.8 425.1L105.1 423.1L105.4 428.7L105.7 426.9L106.0 428.4L106.3 429.9L106.7 425.3L107.0 425.2L107.3 424.7L107.6 425.7L107.9 430.0L108.2 426.4L108.5 427.6L108.9 428.5L109.2 428.3L109.5 425.0L109.8 426.9L110.1 422.8L110.4 425.5L110.7 429.7L111.1 424.7L111.4 424.0L111.7 426.2L112.0 428.4L112.3 423.1L112.6 428.6L112.9 426.4L113.3 429.6L113.6 428.4" fill="none" stroke="#000" stroke-width="0.9" stroke-linejoin="round"/>
<path d="M44.4 428.0L44.7 423.0L45.0 422.8L45.3 425.6L45.7 427.3L46.0 425.0L46.3 424.1L46.6 427.5L46.9 426.9L47.2 424.9L47.5 423.5L47.9 424.6L48.2 423.9L48.5 426.9L48.8 429.1L49.1 424.1L49.4 426.3L49.7 424.8L50.1 425.3L50.4 423.7L50.7 425.9L51.0 421.9L51.3 424.4L51.6 423.5L51.9 423.3L52.3 422.6L52.6 423.7L52.9 427.5L53.2 425.5L53.5 421.0L53.8 423.5L54.1 423.1L54.5 423.1L54.8 424.9L55.1 424.7L55.4 424.5L55.7 421.0L56.0 422.2L56.3 419.5L56.7 421.6L57.0 418.9L57.3 421.2L57.6 424.0L57.9 418.5L58.2 420.9L58.5 419.1L58.9 420.9L59.2 421.9L59.5 421.0L59.8 423.4L60.1 423.5L60.4 423.0L60.7 422.4L61.1 423.9L61.4 421.6L61.7 420.9L62.0 417.8L62.3 418.2L62.6 421.6L62.9 420.0L63.3 422.0L63.6 420.9L63.9 421.7L64.2 422.6L64.5 421.5L64.8 424.4L65.2 420.9L65.5 422.3L65.8 423.7L66.1 422.4L66.4 420.8L66.7 423.1L67.0 421.0L67.4 420.8L67.7 419.1L68.0 423.9L68.3 422.1L68.6 421.0L68.9 419.3L69.2 421.5L69.6 420.7L69.9 424.7L70.2 423.1L70.5 419.1L70.8 422.6L71.1 418.2L71.4 423.5L71.8 422.7L72.1 425.1L72.4 421.1L72.7 421.8L73.0 418.6L73.3 422.0L73.6 422.8L74.0 424.9L74.3 422.5L74.6 420.7L74.9 421.1L75.2 420.2L75.5 420.9L75.8 422.6L76.2 421.5L76.5 422.3L76.8 425.1L77.1 419.7L77.4 422.2L77.7 424.8L78.0 422.3L78.4 422.6L78.7 421.3L79.0 420.6L79.3 428.8L79.6 422.4L79.9 420.7L80.2 425.2L80.6 427.0L80.9 423.2L81.2 423.1L81.5 423.2L81.8 425.9L82.1 424.8L82.4 423.7L82.8 422.7L83.1 420.2L83.4 423.7L83.7 425.4L84.0 428.6L84.3 422.3L84.6 424.5L85.0 424.5L85.3 426.1L85.6 422.9L85.9 427.5L86.2 424.0L86.5 424.0L86.8 423.7L87.2 421.8L87.5 424.4L87.8 424.0L88.1 422.6L88.4 427.0L88.7 424.7L89.0 424.0L89.4 422.3L89.7 425.5L90.0 422.6L90.3 423.4L90.6 426.8L90.9 426.7L91.2 426.6L91.6 423.8L91.9 423.6L92.2 422.7L92.5 422.5L92.8 425.0L93.1 422.0L93.4 422.4L93.8 423.1L94.1 423.0L94.4 426.2L94.7 423.2L95.0 425.8L95.3 426.0L95.6 424.5L96.0 423.6L96.3 423.9L96.6 424.4L96.9 425.6L97.2 423.4L97.5 425.1L97.8 426.3L98.2 423.6L98.5 421.1L98.8 424.5L99.1 425.6L99.4 421.1L99.7 420.5L100.0 424.2L100.4 424.0L100.7 423.2L101.0 418.2L101.3 423.4L101.6 421.8L101.9 422.8L102.2 426.9L102.6 425.6L102.9 425.8L103.2 422.7L103.5 423.3L103.8 420.2L104.1 424.0L104.5 422.9L104.8 423.3L105.1 423.2L105.4 419.2L105.7 422.9L106.0 420.7L106.3 421.0L106.7 424.5L107.0 422.1L107.3 424.1L107.6 423.1L107.9 423.0L108.2 423.3L108.5 424.2L108.9 420.4L109.2 423.8L109.5 422.0L109.8 420.2L110.1 422.1L110.4 421.3L110.7 420.7L111.1 421.2L111.4 420.0L111.7 425.8L112.0 419.6L112.3 423.1L112.6 426.4L112.9 424.3L113.3 425.7L113.6 423.1" fill="none" stroke="#000" stroke-width="0.9" stroke-linejoin="round"/>
<path d="M113.6 426.8L113.9 422.1L114.2 416.4L114.5 412.5L114.8 409.5L115.1 404.7L115.5 400.5L115.8 396.4L116.1 393.6L116.4 391.0L116.7 386.7L117.0 386.8L117.3 382.5L117.7 378.8L118.0 376.6L118.3 374.0L118.6 371.5L118.9 368.3L119.2 364.7L119.5 364.1L119.9 361.9L120.2 358.7L120.5 357.1L120.8 356.8L121.1 352.0L121.4 351.6L121.7 350.6L122.1 347.9L122.4 347.4L122.7 346.9L123.0 347.7" fill="none" stroke="#000" stroke-width="1.1" stroke-linejoin="round" stroke-dasharray="2.6 1.5"/>
<path d="M123.0 348.2M123.4 343.6M123.7 342.4L124.1 340.0L124.4 339.0L124.8 339.0L125.1 339.0L125.5 337.3M125.8 334.2L126.2 334.7L126.5 330.0L126.9 333.2M127.2 333.6L127.6 330.1M128.0 332.4L128.3 325.6L128.7 329.9L129.0 327.6L129.4 327.5M129.7 328.0M130.1 329.2L130.4 328.8M130.8 323.2L131.1 322.4L131.5 319.8L131.8 325.9M132.2 321.6M132.5 322.1M132.9 320.0L133.3 322.0L133.6 319.2L134.0 318.3L134.3 318.3M134.7 316.4M135.0 319.2M135.4 315.9L135.7 319.8M136.1 315.3L136.4 323.2L136.8 318.0L137.1 319.3M137.5 317.6L137.9 315.6L138.2 316.0L138.6 316.9L138.9 313.8M139.3 319.5M139.6 318.1L140.0 313.6L140.3 315.6L140.7 319.9L141.0 315.2M141.4 317.9M141.7 312.8M142.1 313.2L142.5 316.2L142.8 312.6L143.2 316.3L143.5 312.9L143.9 313.4M144.2 314.5L144.6 316.7L144.9 314.4M145.3 317.9M145.6 314.6L146.0 316.8M146.3 310.9L146.7 314.8L147.1 317.3M147.4 311.6M147.8 311.8L148.1 313.3M148.5 308.3M148.8 310.7L149.2 311.9M149.5 313.2M149.9 317.3L150.2 310.9L150.6 309.9L150.9 312.7L151.3 314.1M151.6 311.5M152.0 314.4L152.4 311.2L152.7 309.7L153.1 308.2L153.4 310.4L153.8 310.5M154.1 309.4L154.5 308.1L154.8 311.1M155.2 312.7M155.5 311.8L155.9 312.6M156.2 311.8M156.6 310.3L157.0 309.4L157.3 309.6L157.7 309.7L158.0 310.4M158.4 308.8L158.7 307.9L159.1 308.0M159.4 306.6L159.8 309.8L160.1 309.6M160.5 305.9" fill="none" stroke="#000" stroke-width="0.8" stroke-linejoin="round"/>
<path d="M123.2 345.5L123.6 342.6M124.0 338.3M124.5 339.1M124.9 338.0M125.3 336.0L125.8 337.2L126.2 332.0L126.6 332.5L127.0 330.9L127.5 332.4L127.9 329.2L128.3 329.2L128.8 328.7M129.2 325.8M129.6 330.8L130.1 326.1L130.5 328.9L130.9 327.3L131.4 321.0L131.8 322.7M132.2 321.4M132.7 325.2L133.1 323.6L133.5 319.5M134.0 319.3L134.4 317.4M134.8 318.5M135.3 318.0L135.7 317.6L136.1 318.4L136.6 320.6M137.0 316.2L137.4 318.4L137.9 317.6L138.3 317.5L138.7 315.8L139.2 317.2M139.6 318.8L140.0 316.1L140.4 314.1L140.9 316.6L141.3 313.2M141.7 315.6L142.2 314.6L142.6 311.7M143.0 312.7L143.5 307.7L143.9 315.7M144.3 313.8L144.8 312.4L145.2 314.2L145.6 315.0M146.1 312.4L146.5 313.3L146.9 313.2L147.4 313.4L147.8 311.7M148.2 312.3M148.7 312.2M149.1 313.2M149.5 312.9M150.0 314.1M150.4 311.1L150.8 311.9L151.3 312.5M151.7 311.3L152.1 310.3L152.6 310.1L153.0 311.3L153.4 309.5L153.9 309.1L154.3 314.1M154.7 312.5L155.1 309.2M155.6 309.9L156.0 309.0M156.4 308.0L156.9 311.8L157.3 309.3L157.7 307.7L158.2 311.4L158.6 306.6L159.0 313.0L159.5 309.8L159.9 304.8M160.3 309.6" fill="none" stroke="#000" stroke-width="0.75" stroke-linejoin="round"/>
<path d="M113.6 424.7L113.9 421.5L114.2 416.6L114.5 413.0L114.8 411.5L115.1 404.8L115.5 404.6L115.8 398.9L116.1 392.6L116.4 384.5L116.7 379.8L117.0 374.0L117.3 373.9L117.7 371.9L118.0 371.0L118.3 369.2L118.6 367.5L118.9 367.3L119.2 367.6L119.5 367.5L119.9 365.1L120.2 366.4L120.5 366.4L120.8 363.9L121.1 363.9L121.4 364.8L121.7 365.3L122.1 365.6L122.4 363.3L122.7 364.9L123.0 363.1" fill="none" stroke="#000" stroke-width="1.1" stroke-linejoin="round" stroke-dasharray="2.6 1.5"/>
<path d="M123.0 365.6L123.4 363.8L123.7 363.1M124.1 363.3L124.4 363.0L124.8 362.5L125.1 365.0M125.5 364.8L125.8 362.8M126.2 359.1L126.5 362.4M126.9 363.6L127.2 363.0L127.6 361.5M128.0 359.2M128.3 362.2M128.7 360.0M129.0 360.4L129.4 361.2L129.7 362.1M130.1 360.4M130.4 361.3L130.8 358.8L131.1 362.7L131.5 357.3M131.8 357.8M132.2 357.9L132.5 356.1M132.9 357.6L133.3 361.7L133.6 358.4L134.0 357.6L134.3 359.5L134.7 360.2L135.0 357.3L135.4 357.1L135.7 358.6L136.1 358.2L136.4 358.6L136.8 358.6M137.1 357.6M137.5 355.4L137.9 360.2M138.2 357.8L138.6 354.1L138.9 356.4M139.3 356.6L139.6 355.2L140.0 358.5L140.3 358.8M140.7 359.5L141.0 359.1L141.4 356.0M141.7 354.8L142.1 357.0L142.5 357.4M142.8 355.4L143.2 355.0L143.5 355.6L143.9 359.4L144.2 356.9M144.6 360.4L144.9 355.4L145.3 357.3L145.6 356.9L146.0 352.9L146.3 353.2L146.7 354.6L147.1 354.9L147.4 355.1L147.8 356.4L148.1 355.3L148.5 351.8L148.8 356.7M149.2 356.3M149.5 354.7L149.9 353.3L150.2 353.4L150.6 356.6L150.9 355.0L151.3 355.3M151.6 357.0L152.0 354.6L152.4 355.6L152.7 353.0L153.1 353.9L153.4 356.1L153.8 354.5L154.1 355.3L154.5 355.7L154.8 355.4L155.2 352.6M155.5 355.3L155.9 357.6L156.2 355.9L156.6 353.0L157.0 350.6L157.3 356.3L157.7 355.0L158.0 355.0M158.4 356.9L158.7 353.6L159.1 354.4L159.4 353.8L159.8 350.3M160.1 354.7L160.5 352.8" fill="none" stroke="#000" stroke-width="0.8" stroke-linejoin="round"/>
<path d="M123.2 362.6M123.6 365.5L124.0 363.2L124.5 362.7L124.9 366.3L125.3 362.0L125.8 363.6L126.2 363.1L126.6 360.9M127.0 360.6L127.5 360.7L127.9 358.1L128.3 360.6L128.8 360.8M129.2 360.0M129.6 357.6L130.1 358.9L130.5 359.3L130.9 357.7M131.4 362.1M131.8 357.3M132.2 357.4L132.7 359.2L133.1 361.3M133.5 361.4M134.0 362.3L134.4 357.5M134.8 358.3L135.3 359.6L135.7 356.2M136.1 359.5L136.6 355.7L137.0 356.0L137.4 356.3L137.9 359.2L138.3 359.0M138.7 356.8L139.2 354.9L139.6 358.6M140.0 356.2L140.4 354.9L140.9 359.5M141.3 352.9M141.7 356.7L142.2 357.2L142.6 355.8M143.0 356.4L143.5 357.7L143.9 357.0L144.3 356.3M144.8 357.7L145.2 353.9M145.6 354.4M146.1 354.2M146.5 358.5L146.9 356.3L147.4 354.4M147.8 355.4M148.2 358.5M148.7 354.4M149.1 351.3M149.5 353.0M150.0 355.0L150.4 357.0M150.8 352.8L151.3 353.7L151.7 355.3L152.1 355.3L152.6 353.1L153.0 354.8L153.4 355.8M153.9 356.7L154.3 355.2M154.7 355.1M155.1 355.4M155.6 346.5L156.0 356.7L156.4 357.5L156.9 355.7L157.3 352.8L157.7 350.7L158.2 357.3L158.6 355.3L159.0 353.1M159.5 355.6L159.9 353.1L160.3 354.8" fill="none" stroke="#000" stroke-width="0.75" stroke-linejoin="round"/>
<path d="M113.6 422.0L113.9 427.4L114.3 426.2L114.6 421.2L115.0 421.7L115.3 425.0L115.7 425.5L116.0 422.7M116.4 426.9L116.8 424.5L117.1 423.8L117.5 429.1L117.8 421.6L118.2 421.0L118.5 420.2L118.9 426.2L119.2 425.7M119.6 424.4L119.9 425.5M120.3 417.2L120.6 424.5L121.0 422.7M121.3 421.4L121.7 420.7M122.1 418.1L122.4 424.2L122.8 419.1M123.1 420.6L123.5 423.5L123.8 420.0L124.2 423.4L124.5 415.8L124.9 421.2L125.2 416.6M125.6 415.6L125.9 420.0M126.3 420.3M126.7 417.5M127.0 420.1L127.4 415.0L127.7 416.4L128.1 418.4M128.4 417.9L128.8 414.1L129.1 419.1M129.5 411.2L129.8 416.9L130.2 415.1M130.5 416.5L130.9 409.8M131.3 411.4L131.6 409.8L132.0 410.9L132.3 411.9L132.7 407.5L133.0 409.6L133.4 409.7L133.7 408.9L134.1 408.1L134.4 408.8L134.8 409.5L135.1 412.5L135.5 403.2L135.9 410.9M136.2 412.6L136.6 408.7M136.9 401.7L137.3 403.1M137.6 407.1L138.0 404.5L138.3 404.8L138.7 409.2M139.0 404.7L139.4 402.8L139.7 400.2M140.1 406.6L140.4 409.8M140.8 408.7L141.2 404.6M141.5 405.8L141.9 406.2L142.2 406.8M142.6 408.6L142.9 411.7L143.3 407.8L143.6 408.5L144.0 408.6L144.3 407.2L144.7 413.4M145.0 416.2M145.4 414.9L145.8 405.4M146.1 413.0M146.5 409.9L146.8 411.0L147.2 409.3M147.5 403.3L147.9 412.5L148.2 411.8L148.6 412.9M148.9 411.0L149.3 410.4M149.6 414.1L150.0 408.6L150.4 409.1L150.7 411.0L151.1 412.4L151.4 412.8L151.8 416.3L152.1 410.3L152.5 413.9M152.8 412.4L153.2 408.4L153.5 412.7L153.9 411.4L154.2 407.6M154.6 404.8L155.0 410.7L155.3 405.9L155.7 409.9L156.0 407.0M156.4 406.4L156.7 410.0L157.1 404.3L157.4 402.0M157.8 406.0M158.1 405.1L158.5 408.3L158.8 401.1M159.2 405.7L159.5 409.3L159.9 404.6L160.3 410.4" fill="none" stroke="#000" stroke-width="0.8" stroke-linejoin="round"/>
<path d="M113.8 425.9L114.2 421.4M114.7 419.6M115.1 428.0L115.5 419.1M116.0 422.2L116.4 423.6L116.8 428.9L117.3 426.3L117.7 425.4L118.1 420.8L118.6 423.0M119.0 422.1M119.4 422.1M119.9 421.1M120.3 422.9M120.7 418.7L121.2 427.5L121.6 424.1M122.0 422.6L122.4 423.7L122.9 417.9M123.3 421.9M123.7 425.1M124.2 421.3M124.6 420.8L125.0 421.3L125.5 420.5L125.9 419.8M126.3 416.3M126.8 418.1M127.2 416.4L127.6 417.1L128.1 413.4M128.5 416.0L128.9 415.0M129.4 412.6L129.8 411.5M130.2 411.4M130.7 415.9L131.1 416.8L131.5 406.2L132.0 415.9M132.4 413.7L132.8 414.9L133.3 410.1L133.7 410.4M134.1 415.7L134.6 406.5M135.0 410.0M135.4 405.3M135.9 405.2M136.3 407.1M136.7 404.0L137.1 408.1L137.6 405.5M138.0 405.5M138.4 404.2L138.9 402.6M139.3 403.0L139.7 404.0L140.2 402.0L140.6 405.3M141.0 403.0M141.5 407.9L141.9 409.5L142.3 401.6L142.8 411.2M143.2 406.6L143.6 405.2L144.1 408.3M144.5 409.1L144.9 410.6L145.4 410.6L145.8 412.6M146.2 409.4L146.7 409.0L147.1 414.2L147.5 416.3M148.0 403.5L148.4 411.7M148.8 414.1L149.3 414.2L149.7 409.7L150.1 408.5L150.5 414.2M151.0 412.9L151.4 410.7L151.8 413.3M152.3 410.8M152.7 410.2M153.1 408.9L153.6 407.8L154.0 409.5M154.4 410.9L154.9 412.3M155.3 408.7L155.7 410.6M156.2 408.7L156.6 407.7L157.0 407.0M157.5 404.0M157.9 405.1L158.3 405.2L158.8 401.3L159.2 405.6M159.6 401.6L160.1 406.6L160.5 406.0" fill="none" stroke="#000" stroke-width="0.7" stroke-linejoin="round"/>
<text transform="translate(253.50 281.40) scale(1 1)" font-size="24.2" text-anchor="start" font-weight="bold" >D</text>
<line x1="296.30" y1="287.70" x2="296.30" y2="460.40" stroke="#000" stroke-width="1.25"/>
<line x1="295.70" y1="459.80" x2="455.90" y2="459.80" stroke="#000" stroke-width="1.25"/>
<line x1="291.30" y1="459.80" x2="296.30" y2="459.80" stroke="#000" stroke-width="1.1"/>
<text transform="translate(289.50 463.65) scale(1.06 1)" font-size="10.6" text-anchor="end" font-weight="normal" >0</text>
<line x1="292.00" y1="447.55" x2="296.30" y2="447.55" stroke="#000" stroke-width="1.1"/>
<line x1="291.30" y1="435.30" x2="296.30" y2="435.30" stroke="#000" stroke-width="1.1"/>
<text transform="translate(289.50 439.15) scale(1.06 1)" font-size="10.6" text-anchor="end" font-weight="normal" >0.4</text>
<line x1="292.00" y1="423.05" x2="296.30" y2="423.05" stroke="#000" stroke-width="1.1"/>
<line x1="291.30" y1="410.80" x2="296.30" y2="410.80" stroke="#000" stroke-width="1.1"/>
<text transform="translate(289.50 414.65) scale(1.06 1)" font-size="10.6" text-anchor="end" font-weight="normal" >0.8</text>
<line x1="292.00" y1="398.55" x2="296.30" y2="398.55" stroke="#000" stroke-width="1.1"/>
<line x1="291.30" y1="386.30" x2="296.30" y2="386.30" stroke="#000" stroke-width="1.1"/>
<text transform="translate(289.50 390.15) scale(1.06 1)" font-size="10.6" text-anchor="end" font-weight="normal" >1.2</text>
<line x1="292.00" y1="374.05" x2="296.30" y2="374.05" stroke="#000" stroke-width="1.1"/>
<line x1="291.30" y1="361.80" x2="296.30" y2="361.80" stroke="#000" stroke-width="1.1"/>
<text transform="translate(289.50 365.65) scale(1.06 1)" font-size="10.6" text-anchor="end" font-weight="normal" >1.6</text>
<line x1="292.00" y1="349.55" x2="296.30" y2="349.55" stroke="#000" stroke-width="1.1"/>
<line x1="291.30" y1="337.30" x2="296.30" y2="337.30" stroke="#000" stroke-width="1.1"/>
<text transform="translate(289.50 341.15) scale(1.06 1)" font-size="10.6" text-anchor="end" font-weight="normal" >2.0</text>
<line x1="292.00" y1="325.05" x2="296.30" y2="325.05" stroke="#000" stroke-width="1.1"/>
<line x1="291.30" y1="312.80" x2="296.30" y2="312.80" stroke="#000" stroke-width="1.1"/>
<text transform="translate(289.50 316.65) scale(1.06 1)" font-size="10.6" text-anchor="end" font-weight="normal" >2.4</text>
<line x1="292.00" y1="300.55" x2="296.30" y2="300.55" stroke="#000" stroke-width="1.1"/>
<line x1="291.30" y1="288.30" x2="296.30" y2="288.30" stroke="#000" stroke-width="1.1"/>
<text transform="translate(289.50 292.15) scale(1.06 1)" font-size="10.6" text-anchor="end" font-weight="normal" >2.8</text>
<line x1="296.30" y1="459.80" x2="296.30" y2="462.70" stroke="#000" stroke-width="1.1"/>
<text transform="translate(296.00 473.90) scale(1.06 1)" font-size="10.6" text-anchor="middle" font-weight="normal" >0</text>
<line x1="336.05" y1="459.80" x2="336.05" y2="462.70" stroke="#000" stroke-width="1.1"/>
<text transform="translate(335.75 473.90) scale(1.06 1)" font-size="10.6" text-anchor="middle" font-weight="normal" >50</text>
<line x1="375.80" y1="459.80" x2="375.80" y2="462.70" stroke="#000" stroke-width="1.1"/>
<text transform="translate(375.50 473.90) scale(1.06 1)" font-size="10.6" text-anchor="middle" font-weight="normal" >100</text>
<line x1="415.55" y1="459.80" x2="415.55" y2="462.70" stroke="#000" stroke-width="1.1"/>
<text transform="translate(415.25 473.90) scale(1.06 1)" font-size="10.6" text-anchor="middle" font-weight="normal" >150</text>
<line x1="455.30" y1="459.80" x2="455.30" y2="462.70" stroke="#000" stroke-width="1.1"/>
<text transform="translate(455.00 473.90) scale(1.06 1)" font-size="10.6" text-anchor="middle" font-weight="normal" >200</text>
<text transform="translate(267.40 375.40) rotate(-90) scale(1 1.06)" font-size="10.95" text-anchor="middle">Fluorescence (AU)</text>
<text transform="translate(379.80 487.80) scale(1.04 1)" font-size="13.4" text-anchor="middle" font-weight="normal" >Time (sec)</text>
<text transform="translate(301.60 321.50)" font-size="14.1" word-spacing="-2.0">− Ca<tspan font-size="13.4" dy="-1.9">++</tspan></text>
<rect x="302.4" y="316.7" width="6.7" height="1.6" fill="#000"/>
<text transform="translate(413.20 303.70) scale(1.04 1)" font-size="10.45" text-anchor="start" font-weight="normal" >Vehicle</text>
<text transform="translate(413.20 360.00) scale(1.04 1)" font-size="10.45" text-anchor="start" font-weight="normal" >Nicardipine</text>
<text transform="translate(413.20 371.20) scale(1.04 1)" font-size="10.45" text-anchor="start" font-weight="normal" >10 (<tspan font-style="italic">µ</tspan>M)</text>
<text transform="translate(413.20 405.70) scale(1.04 1)" font-size="10.45" text-anchor="start" font-weight="normal" >Nicardipine</text>
<text transform="translate(413.20 416.40) scale(1.04 1)" font-size="10.45" text-anchor="start" font-weight="normal" >20 (<tspan font-style="italic">µ</tspan>M)</text>
<text transform="translate(356.50 451.20) scale(1.04 1)" font-size="10.45" text-anchor="start" font-weight="normal" >ST1926</text>
<path d="M302.00 436.00Q304.90 439.90 306.30 445.00L305.80 445.50L303.20 444.40L303.20 451.50L300.80 451.50L300.80 444.40L298.20 445.50L297.70 445.00Q299.10 439.90 302.00 436.00Z" fill="#000"/>
<path d="M351.10 436.00Q354.00 439.90 355.40 445.00L354.90 445.50L352.30 444.40L352.30 451.50L349.90 451.50L349.90 444.40L347.30 445.50L346.80 445.00Q348.20 439.90 351.10 436.00Z" fill="#000"/>
<path d="M296.3 430.5L296.5 427.2L296.8 428.1L297.0 428.3L297.3 429.9L297.5 425.6L297.7 426.5L298.0 427.6L298.2 425.2L298.4 428.6L298.7 425.7L298.9 428.3L299.2 424.6L299.4 426.9L299.6 424.5L299.9 426.7L300.1 425.3L300.4 424.1L300.6 426.9L300.8 425.2L301.1 426.4L301.3 424.0L301.5 426.1L301.8 425.8L302.0 425.6L302.3 423.6L302.5 426.9L302.7 425.4L303.0 425.9L303.2 426.2L303.5 426.6L303.7 425.7L303.9 425.2L304.2 427.8L304.4 425.2L304.6 427.3L304.9 425.6L305.1 422.3L305.4 427.1L305.6 425.8L305.8 426.1L306.1 424.3L306.3 426.5L306.6 428.4L306.8 428.2L307.0 425.6L307.3 425.5L307.5 424.3L307.7 426.7L308.0 425.0L308.2 427.5L308.5 424.1L308.7 426.1L308.9 427.1L309.2 425.8L309.4 423.6L309.7 427.4L309.9 428.0L310.1 427.7L310.4 427.9L310.6 426.3L310.8 425.8L311.1 426.5L311.3 426.0L311.6 424.6L311.8 426.8L312.0 428.2L312.3 429.8L312.5 426.1L312.8 427.4L313.0 426.8L313.2 425.9L313.5 425.8L313.7 428.8L313.9 427.9L314.2 426.4L314.4 426.7L314.7 424.8L314.9 427.3L315.1 429.6L315.4 424.8L315.6 429.0L315.9 428.0L316.1 426.0L316.3 428.1L316.6 422.9L316.8 426.2L317.0 425.8L317.3 427.3L317.5 423.4L317.8 425.8L318.0 427.7L318.2 424.8L318.5 429.1L318.7 427.5L319.0 426.3L319.2 426.5L319.4 428.1L319.7 424.4L319.9 424.6L320.2 428.1L320.4 426.2L320.6 427.7L320.9 427.4L321.1 425.3L321.3 426.6L321.6 426.9L321.8 426.6L322.1 428.5L322.3 425.0L322.5 427.9L322.8 424.9L323.0 427.5L323.3 427.5L323.5 424.7L323.7 426.6L324.0 427.8L324.2 427.7L324.4 426.0L324.7 424.1L324.9 426.0L325.2 427.5L325.4 428.6L325.6 427.9L325.9 427.1L326.1 426.6L326.4 427.9L326.6 425.1L326.8 428.4L327.1 428.0L327.3 426.3L327.5 426.3L327.8 427.6L328.0 425.6L328.3 429.1L328.5 424.6L328.7 423.8L329.0 424.2L329.2 426.9L329.5 424.2L329.7 427.0L329.9 425.1L330.2 427.4L330.4 426.8L330.6 426.3L330.9 429.7L331.1 427.4L331.4 424.6L331.6 431.4L331.8 426.6L332.1 425.8L332.3 426.7L332.6 426.9L332.8 425.1L333.0 426.7L333.3 430.0L333.5 428.6L333.7 427.6L334.0 427.0L334.2 427.9L334.5 427.4L334.7 424.8L334.9 431.5L335.2 425.5L335.4 425.9L335.7 426.4L335.9 427.2L336.1 427.2L336.4 426.7L336.6 426.9L336.8 428.3L337.1 426.1L337.3 428.5L337.6 427.4L337.8 427.8L338.0 429.0L338.3 426.4L338.5 427.4L338.8 429.0L339.0 427.4L339.2 429.4L339.5 425.2L339.7 426.6L339.9 424.4L340.2 428.2L340.4 426.3L340.7 428.8L340.9 428.6L341.1 427.5L341.4 426.8L341.6 426.0L341.9 427.8L342.1 425.8L342.3 426.0L342.6 428.7L342.8 427.7L343.0 428.8L343.3 424.9L343.5 428.3L343.8 426.2L344.0 426.1L344.2 427.8L344.5 428.2L344.7 427.0L345.0 428.6L345.2 429.4L345.4 428.9L345.7 427.0L345.9 427.2L346.1 424.9L346.4 430.2L346.6 426.8L346.9 429.2L347.1 425.9L347.3 426.5L347.6 427.4L347.8 425.4L348.1 428.1L348.3 428.4L348.5 429.1L348.8 428.6L349.0 427.4L349.2 426.6L349.5 425.7L349.7 428.0L350.0 428.7L350.2 428.1" fill="none" stroke="#000" stroke-width="0.85" stroke-linejoin="round"/>
<path d="M296.3 428.6L296.5 428.5L296.8 428.2L297.0 428.7L297.3 427.3L297.5 427.8L297.7 427.1L298.0 428.7L298.2 426.3L298.4 425.5L298.7 425.2L298.9 426.7L299.2 427.4L299.4 427.5L299.6 427.1L299.9 426.1L300.1 425.5L300.4 427.4L300.6 423.7L300.8 426.7L301.1 425.3L301.3 425.4L301.5 423.1L301.8 421.7L302.0 424.9L302.3 424.8L302.5 425.0L302.7 424.8L303.0 424.7L303.2 420.9L303.5 426.1L303.7 424.7L303.9 425.7L304.2 424.1L304.4 425.4L304.6 423.8L304.9 426.3L305.1 421.6L305.4 424.4L305.6 427.3L305.8 423.8L306.1 425.5L306.3 426.5L306.6 424.2L306.8 425.7L307.0 423.9L307.3 425.8L307.5 423.7L307.7 424.8L308.0 424.5L308.2 424.8L308.5 425.6L308.7 425.6L308.9 424.5L309.2 424.1L309.4 425.8L309.7 422.0L309.9 422.8L310.1 426.9L310.4 423.7L310.6 425.4L310.8 425.0L311.1 426.5L311.3 423.0L311.6 426.6L311.8 425.6L312.0 426.5L312.3 422.7L312.5 423.7L312.8 427.4L313.0 426.2L313.2 425.0L313.5 426.2L313.7 426.1L313.9 427.1L314.2 425.2L314.4 427.2L314.7 424.4L314.9 422.1L315.1 426.1L315.4 423.2L315.6 425.1L315.9 426.6L316.1 426.1L316.3 427.0L316.6 425.5L316.8 424.7L317.0 424.3L317.3 426.1L317.5 427.4L317.8 425.8L318.0 423.3L318.2 425.3L318.5 425.8L318.7 428.8L319.0 426.4L319.2 425.0L319.4 427.1L319.7 423.8L319.9 426.6L320.2 427.1L320.4 426.7L320.6 426.0L320.9 424.4L321.1 426.7L321.3 428.4L321.6 426.0L321.8 425.1L322.1 423.7L322.3 427.5L322.5 423.8L322.8 424.9L323.0 425.3L323.3 427.0L323.5 427.2L323.7 427.3L324.0 424.6L324.2 425.6L324.4 424.4L324.7 423.3L324.9 426.0L325.2 426.1L325.4 423.2L325.6 427.9L325.9 426.7L326.1 426.6L326.4 426.6L326.6 425.8L326.8 427.3L327.1 424.4L327.3 428.0L327.5 427.3L327.8 428.5L328.0 428.1L328.3 425.3L328.5 425.2L328.7 426.4L329.0 424.9L329.2 425.2L329.5 427.0L329.7 426.2L329.9 425.6L330.2 423.3L330.4 426.8L330.6 425.6L330.9 425.4L331.1 424.4L331.4 425.6L331.6 424.7L331.8 427.8L332.1 426.6L332.3 429.0L332.6 426.3L332.8 422.9L333.0 425.9L333.3 426.1L333.5 425.9L333.7 426.1L334.0 428.2L334.2 427.3L334.5 426.5L334.7 426.1L334.9 427.5L335.2 426.5L335.4 427.4L335.7 428.2L335.9 427.3L336.1 427.5L336.4 425.1L336.6 424.4L336.8 425.5L337.1 426.7L337.3 427.2L337.6 428.6L337.8 427.1L338.0 424.1L338.3 424.7L338.5 426.1L338.8 426.7L339.0 426.4L339.2 425.8L339.5 426.4L339.7 425.8L339.9 427.6L340.2 426.4L340.4 427.0L340.7 424.9L340.9 428.3L341.1 424.6L341.4 426.6L341.6 427.2L341.9 426.5L342.1 426.3L342.3 426.8L342.6 425.9L342.8 427.4L343.0 428.9L343.3 425.5L343.5 426.6L343.8 424.1L344.0 426.0L344.2 429.4L344.5 424.8L344.7 427.6L345.0 425.8L345.2 423.4L345.4 425.0L345.7 428.2L345.9 426.7L346.1 428.9L346.4 425.6L346.6 425.8L346.9 428.1L347.1 426.0L347.3 425.3L347.6 425.5L347.8 427.6L348.1 427.7L348.3 428.3L348.5 428.5L348.8 426.2L349.0 426.6L349.2 424.8L349.5 426.3L349.7 427.2L350.0 428.8L350.2 424.5" fill="none" stroke="#000" stroke-width="0.85" stroke-linejoin="round"/>
<path d="M296.3 426.8L296.5 426.9L296.8 428.1L297.0 428.0L297.3 425.4L297.5 427.5L297.7 425.1L298.0 424.8L298.2 426.1L298.4 427.7L298.7 424.6L298.9 423.0L299.2 426.0L299.4 426.4L299.6 422.9L299.9 424.1L300.1 425.0L300.4 422.1L300.6 424.1L300.8 422.9L301.1 423.9L301.3 424.4L301.5 423.1L301.8 424.6L302.0 426.0L302.3 424.2L302.5 421.7L302.7 422.0L303.0 420.4L303.2 422.2L303.5 421.3L303.7 423.3L303.9 424.3L304.2 423.0L304.4 425.1L304.6 422.7L304.9 424.4L305.1 423.4L305.4 425.1L305.6 424.0L305.8 422.5L306.1 424.2L306.3 424.9L306.6 423.5L306.8 422.7L307.0 424.3L307.3 425.7L307.5 426.3L307.7 426.0L308.0 422.6L308.2 424.3L308.5 423.5L308.7 422.6L308.9 423.8L309.2 423.6L309.4 425.0L309.7 426.6L309.9 423.4L310.1 424.5L310.4 423.5L310.6 425.9L310.8 424.6L311.1 421.6L311.3 425.7L311.6 424.4L311.8 422.7L312.0 424.9L312.3 424.4L312.5 427.7L312.8 423.5L313.0 425.2L313.2 422.8L313.5 424.8L313.7 425.2L313.9 424.0L314.2 425.0L314.4 425.4L314.7 422.5L314.9 423.3L315.1 424.5L315.4 423.5L315.6 423.5L315.9 423.9L316.1 424.6L316.3 424.6L316.6 424.2L316.8 423.9L317.0 424.2L317.3 425.6L317.5 424.9L317.8 424.1L318.0 426.2L318.2 424.8L318.5 423.7L318.7 424.6L319.0 425.2L319.2 424.9L319.4 425.5L319.7 423.5L319.9 425.4L320.2 427.3L320.4 426.6L320.6 424.5L320.9 424.6L321.1 425.6L321.3 426.8L321.6 425.2L321.8 426.1L322.1 425.9L322.3 425.0L322.5 426.1L322.8 424.5L323.0 426.1L323.3 425.6L323.5 425.3L323.7 422.9L324.0 422.8L324.2 423.7L324.4 426.1L324.7 425.0L324.9 423.8L325.2 423.9L325.4 427.4L325.6 425.2L325.9 426.2L326.1 424.0L326.4 424.2L326.6 425.9L326.8 422.1L327.1 425.5L327.3 421.6L327.5 425.4L327.8 425.3L328.0 422.5L328.3 426.0L328.5 425.8L328.7 423.1L329.0 425.3L329.2 424.5L329.5 427.0L329.7 422.7L329.9 423.8L330.2 424.7L330.4 424.2L330.6 426.0L330.9 425.9L331.1 427.5L331.4 424.7L331.6 423.5L331.8 424.1L332.1 424.0L332.3 424.3L332.6 426.6L332.8 427.1L333.0 424.4L333.3 425.1L333.5 423.9L333.7 425.7L334.0 426.6L334.2 424.7L334.5 426.2L334.7 427.7L334.9 426.3L335.2 426.6L335.4 427.0L335.7 426.2L335.9 424.0L336.1 422.1L336.4 422.9L336.6 426.0L336.8 423.8L337.1 425.5L337.3 424.9L337.6 426.4L337.8 425.6L338.0 427.8L338.3 422.9L338.5 426.5L338.8 424.6L339.0 426.3L339.2 425.1L339.5 427.1L339.7 426.1L339.9 424.2L340.2 424.7L340.4 428.2L340.7 424.3L340.9 427.4L341.1 425.1L341.4 424.8L341.6 426.5L341.9 426.0L342.1 425.9L342.3 425.0L342.6 424.3L342.8 423.7L343.0 425.1L343.3 422.8L343.5 427.0L343.8 423.1L344.0 426.0L344.2 424.5L344.5 425.8L344.7 425.5L345.0 427.0L345.2 425.1L345.4 422.8L345.7 425.4L345.9 425.7L346.1 425.7L346.4 424.7L346.6 426.0L346.9 425.7L347.1 425.4L347.3 423.8L347.6 424.4L347.8 427.3L348.1 426.6L348.3 425.7L348.5 424.5L348.8 424.4L349.0 426.0L349.2 422.7L349.5 426.0L349.7 423.8L350.0 423.8L350.2 423.5" fill="none" stroke="#000" stroke-width="0.85" stroke-linejoin="round"/>
<path d="M350.0 424.5L350.3 419.5L350.5 418.9L350.8 415.2L351.0 408.7L351.2 402.1L351.5 397.1L351.7 394.9L351.9 388.6L352.2 385.1" fill="none" stroke="#000" stroke-width="1.6" stroke-linejoin="round"/>
<path d="M352.3 381.4M352.7 383.4L353.1 380.6M353.4 379.0L353.8 377.3L354.1 372.3M354.5 373.6M354.9 371.7M355.2 369.3M355.6 365.8M355.9 365.3L356.3 361.9M356.6 360.0M357.0 359.4L357.4 359.4L357.7 355.7M358.1 354.0M358.4 348.5M358.8 349.3M359.1 348.0M359.5 344.6M359.9 343.3L360.2 342.8L360.6 338.8L360.9 337.3L361.3 336.4M361.6 335.9M362.0 334.5M362.4 334.1M362.7 329.6M363.1 328.0L363.4 327.9M363.8 325.1M364.2 319.5M364.5 323.1M364.9 322.2M365.2 317.7M365.6 317.3L365.9 316.1L366.3 314.0M366.7 314.2M367.0 312.1M367.4 311.9L367.7 310.4" fill="none" stroke="#000" stroke-width="1.0" stroke-linejoin="round"/>
<path d="M352.5 382.3L352.9 380.4L353.3 378.9M353.7 375.2M354.1 375.8M354.5 373.0L354.9 367.8M355.3 367.2L355.7 368.4M356.1 363.8M356.5 360.0L356.9 360.1L357.3 356.4L357.7 354.7M358.1 354.2M358.5 351.0M358.9 346.7M359.3 344.7L359.7 345.0M360.1 341.1M360.5 341.4L360.9 338.5L361.3 336.9M361.6 336.6M362.0 332.8M362.4 331.9L362.8 332.7M363.2 328.7L363.6 326.8M364.0 325.0M364.4 323.3L364.8 321.1M365.2 321.3M365.6 315.5M366.0 315.3M366.4 314.2M366.8 314.0L367.2 312.8M367.6 312.4" fill="none" stroke="#000" stroke-width="0.9" stroke-linejoin="round"/>
<path d="M368.1 311.6L368.4 354.5" stroke="#000" stroke-width="1.1" fill="none"/>
<path d="M368.2 309.2L368.6 314.3L369.0 307.9L369.3 310.9L369.7 307.7L370.0 306.9L370.4 300.8L370.8 301.8L371.1 299.3L371.5 314.3L371.8 300.6L372.2 305.1L372.5 300.4L372.9 307.4L373.3 305.2L373.6 303.5L374.0 302.5L374.3 296.6L374.7 301.4L375.0 309.1L375.4 303.7L375.8 295.5L376.1 301.1L376.5 300.3L376.8 301.0L377.2 300.4L377.5 302.4L377.9 302.9L378.3 298.4L378.6 308.5L379.0 298.5L379.3 302.5L379.7 307.6L380.1 297.9L380.4 297.7L380.8 300.6L381.1 303.0L381.5 296.4L381.8 304.3L382.2 291.6L382.6 304.2L382.9 297.6L383.3 301.8L383.6 306.2L384.0 299.3L384.3 294.6L384.7 299.3L385.1 295.9L385.4 301.2L385.8 299.2L386.1 307.6L386.5 301.7L386.9 298.7L387.2 290.9L387.6 302.7L387.9 295.9L388.3 298.4L388.6 295.0L389.0 308.7L389.4 303.6L389.7 296.2L390.1 299.8L390.4 299.5L390.8 295.8L391.1 287.7L391.5 291.1L391.9 301.3L392.2 294.1L392.6 299.1L392.9 299.3L393.3 301.6L393.6 296.9L394.0 299.3L394.4 294.1L394.7 291.0L395.1 297.8L395.4 295.7L395.8 292.2L396.2 290.7L396.5 296.6L396.9 294.0L397.2 293.0L397.6 295.6L397.9 289.4L398.3 297.6L398.7 296.8L399.0 298.1L399.4 300.4L399.7 297.4L400.1 295.6L400.4 296.9L400.8 298.9L401.2 302.9L401.5 300.2L401.9 296.6L402.2 295.9L402.6 301.8L402.9 296.0L403.3 303.0L403.7 300.5L404.0 299.2L404.4 303.9L404.7 299.6L405.1 310.4L405.5 306.2L405.8 296.0L406.2 299.8L406.5 296.2L406.9 299.7L407.2 302.9L407.6 294.7" fill="none" stroke="#000" stroke-width="0.85" stroke-linejoin="round"/>
<path d="M369.4 318.0L369.9 306.8L370.3 306.6M370.8 305.0L371.2 305.5L371.6 307.5L372.1 304.5L372.5 303.0L372.9 306.4L373.4 301.4L373.8 296.7L374.2 308.6L374.7 304.5L375.1 303.4L375.6 302.2L376.0 301.8L376.4 304.5M376.9 301.9L377.3 301.6L377.7 301.8L378.2 295.9L378.6 300.7L379.1 306.2L379.5 306.4M379.9 298.6L380.4 301.8L380.8 302.6L381.2 305.1L381.7 301.2L382.1 300.2L382.6 302.2L383.0 300.9L383.4 296.3L383.9 296.5L384.3 297.2L384.7 299.6L385.2 303.7L385.6 296.0L386.1 293.3L386.5 293.9L386.9 294.2L387.4 297.2L387.8 296.8L388.2 298.0L388.7 293.4L389.1 298.6M389.6 290.0L390.0 294.6L390.4 298.4L390.9 297.1L391.3 302.7L391.7 299.5L392.2 297.8L392.6 287.8L393.1 299.3M393.5 293.0L393.9 295.9L394.4 297.1L394.8 293.7L395.2 302.9L395.7 292.3L396.1 288.9L396.5 294.9M397.0 296.3L397.4 295.6M397.9 294.0L398.3 298.2L398.7 296.2L399.2 294.9L399.6 298.1L400.0 295.6L400.5 295.9M400.9 294.7L401.4 300.9L401.8 299.4L402.2 299.2M402.7 293.6L403.1 297.1L403.5 303.9L404.0 302.8L404.4 291.5L404.9 297.3M405.3 303.2L405.7 302.0L406.2 298.4M406.6 293.9L407.0 293.4L407.5 300.6" fill="none" stroke="#000" stroke-width="0.8" stroke-linejoin="round"/>
<path d="M407.3 300.6L407.3 315.2" stroke="#000" stroke-width="0.9" fill="none"/>
<path d="M350.0 425.4L350.3 420.6L350.6 415.8L350.9 410.6L351.2 410.4L351.4 405.5L351.7 401.1L352.0 400.4L352.3 391.6L352.5 390.2L352.8 390.3L353.1 382.5L353.4 384.5L353.7 381.4L353.9 380.5L354.2 380.4L354.5 383.4L354.8 376.9L355.1 377.7L355.3 379.4L355.6 376.0L355.9 373.6L356.2 371.4L356.4 369.8L356.7 367.9L357.0 362.5L357.3 362.1L357.6 358.8L357.8 361.2L358.1 369.0L358.4 368.4L358.7 372.1L358.9 369.8L359.2 369.9L359.5 367.4L359.8 365.5L360.1 366.4L360.3 364.3L360.6 365.3L360.9 365.4L361.2 363.7L361.5 364.6L361.7 363.4L362.0 361.4L362.3 363.8L362.6 360.3L362.8 364.2L363.1 362.5L363.4 365.0L363.7 362.8L364.0 358.8L364.2 360.9L364.5 359.1L364.8 363.8L365.1 362.9L365.3 360.1L365.6 359.3L365.9 359.1L366.2 363.4L366.5 359.4L366.7 360.3L367.0 359.8L367.3 359.1L367.6 360.3L367.8 362.6L368.1 361.4L368.4 361.9L368.7 361.5L369.0 359.3L369.2 356.5L369.5 360.0L369.8 359.9L370.1 360.5L370.4 361.5L370.6 358.3L370.9 359.3L371.2 358.9L371.5 360.2L371.7 357.6L372.0 360.6L372.3 357.5L372.6 359.7L372.9 357.1L373.1 360.1L373.4 357.8L373.7 357.8L374.0 358.7L374.2 355.6L374.5 358.3L374.8 360.2L375.1 357.4L375.4 360.1L375.6 359.6L375.9 358.6L376.2 358.3L376.5 355.6L376.8 361.7L377.0 359.1L377.3 356.7L377.6 359.0L377.9 358.1L378.1 356.0L378.4 360.9L378.7 358.6L379.0 357.3L379.3 359.8L379.5 361.8L379.8 360.5L380.1 358.4L380.4 358.4L380.6 355.5L380.9 356.4L381.2 361.5L381.5 356.9L381.8 357.2L382.0 355.9L382.3 359.1L382.6 359.8L382.9 358.6L383.2 356.1L383.4 357.8L383.7 355.8L384.0 357.5L384.3 359.9L384.5 360.7L384.8 355.6L385.1 361.6L385.4 359.6L385.7 359.5L385.9 360.6L386.2 360.0L386.5 359.0L386.8 354.8L387.0 359.1L387.3 359.9L387.6 358.8L387.9 357.3L388.2 360.5L388.4 359.8L388.7 362.2L389.0 357.8L389.3 357.8L389.6 356.4L389.8 361.2L390.1 355.2L390.4 357.5L390.7 359.6L390.9 359.8L391.2 359.7L391.5 361.3L391.8 357.8L392.1 360.2L392.3 360.4L392.6 358.2L392.9 359.0L393.2 360.2L393.4 359.6L393.7 360.1L394.0 356.8L394.3 357.4L394.6 360.5L394.8 359.3L395.1 356.8L395.4 359.8L395.7 356.1L396.0 358.5L396.2 358.1L396.5 363.0L396.8 357.8L397.1 358.7L397.3 358.3L397.6 358.5L397.9 358.4L398.2 360.3L398.5 357.8L398.7 359.3L399.0 361.2L399.3 361.2L399.6 359.1L399.8 358.8L400.1 363.3L400.4 363.1L400.7 357.6L401.0 359.5L401.2 354.4L401.5 362.2L401.8 359.9L402.1 360.6L402.4 358.5L402.6 357.0L402.9 356.6L403.2 361.3L403.5 357.3L403.7 361.7L404.0 359.0L404.3 359.2L404.6 358.5L404.9 361.0L405.1 357.2L405.4 359.7L405.7 359.6L406.0 360.1L406.2 361.5L406.5 358.3L406.8 359.0L407.1 358.8L407.4 356.3" fill="none" stroke="#000" stroke-width="0.85" stroke-linejoin="round"/>
<path d="M353.5 387.6L353.9 384.1L354.3 381.9L354.6 378.6L355.0 379.2L355.3 375.3M355.7 374.8M356.0 377.9L356.4 371.9L356.8 370.8L357.1 363.1L357.5 359.4L357.8 361.3L358.2 367.1L358.5 368.9L358.9 365.6L359.3 366.4L359.6 369.6L360.0 367.9L360.3 365.2L360.7 361.8L361.1 365.2L361.4 364.5L361.8 363.1L362.1 361.4L362.5 362.7L362.8 361.6L363.2 362.9L363.6 363.0L363.9 363.3L364.3 360.1L364.6 362.5L365.0 360.0L365.3 360.1L365.7 358.7M366.1 366.1L366.4 362.4L366.8 362.7L367.1 360.3L367.5 358.1L367.9 354.3L368.2 356.2L368.6 356.4L368.9 358.2L369.3 359.7L369.6 357.5L370.0 363.0M370.4 356.5L370.7 358.4M371.1 357.2L371.4 360.6L371.8 360.8L372.1 359.8L372.5 358.6M372.9 357.8L373.2 359.3L373.6 357.8L373.9 357.1L374.3 361.0L374.6 358.8L375.0 361.9L375.4 359.7L375.7 356.7L376.1 360.1L376.4 354.7L376.8 357.6M377.2 356.8L377.5 358.5L377.9 356.9L378.2 356.4L378.6 358.5L378.9 359.8L379.3 359.9L379.7 354.7L380.0 359.1L380.4 359.7M380.7 360.3L381.1 362.3M381.4 359.8L381.8 358.1L382.2 359.8L382.5 360.4L382.9 358.0L383.2 357.9L383.6 359.8L383.9 358.2L384.3 360.9L384.7 357.1L385.0 361.0L385.4 359.6L385.7 358.7M386.1 359.8L386.5 361.4L386.8 354.6L387.2 355.8L387.5 362.6L387.9 358.8L388.2 361.7L388.6 358.4L389.0 361.8L389.3 357.8L389.7 358.0L390.0 355.5L390.4 356.6L390.7 360.1M391.1 357.1L391.5 360.1L391.8 359.4L392.2 360.2L392.5 362.8L392.9 357.9L393.3 363.4L393.6 359.7L394.0 358.1L394.3 359.0L394.7 362.5L395.0 360.6L395.4 357.8L395.8 357.0M396.1 356.0L396.5 363.1L396.8 358.3L397.2 360.3L397.5 357.7L397.9 362.9L398.3 359.6L398.6 357.9L399.0 360.7L399.3 360.1L399.7 361.4M400.0 357.1L400.4 362.2L400.8 361.3L401.1 360.1L401.5 360.1L401.8 355.1L402.2 358.9L402.6 361.2L402.9 358.3L403.3 358.8L403.6 358.9M404.0 359.7L404.3 358.6L404.7 362.0L405.1 362.1L405.4 360.5L405.8 361.9L406.1 358.1L406.5 355.6L406.8 357.1L407.2 358.7L407.6 358.9" fill="none" stroke="#000" stroke-width="0.8" stroke-linejoin="round"/>
<path d="M350.0 425.4L350.3 425.3L350.6 422.1L350.9 420.8L351.2 416.9L351.4 419.1L351.7 421.1L352.0 416.0L352.3 412.1L352.5 416.5L352.8 416.6L353.1 414.9L353.4 419.1L353.7 414.0L353.9 413.2L354.2 415.0L354.5 410.8L354.8 413.2L355.1 414.7L355.3 412.4L355.6 409.7L355.9 407.1L356.2 408.0L356.4 409.6L356.7 410.6L357.0 409.9L357.3 407.4L357.6 409.9L357.8 408.1L358.1 407.0L358.4 410.3L358.7 409.7L358.9 407.7L359.2 408.4L359.5 408.6L359.8 409.2L360.1 408.3L360.3 404.8L360.6 405.6L360.9 410.8L361.2 407.8L361.5 407.6L361.7 407.6L362.0 410.1L362.3 407.7L362.6 407.2L362.8 408.6L363.1 406.7L363.4 411.6L363.7 409.8L364.0 406.8L364.2 406.2L364.5 407.1L364.8 407.6L365.1 406.3L365.3 404.6L365.6 404.9L365.9 406.5L366.2 407.2L366.5 404.3L366.7 405.2L367.0 404.5L367.3 406.5L367.6 407.4L367.8 405.6L368.1 407.0L368.4 403.8L368.7 404.4L369.0 409.8L369.2 404.7L369.5 403.5L369.8 404.0L370.1 406.8L370.4 407.4L370.6 404.1L370.9 404.1L371.2 405.8L371.5 408.0L371.7 408.7L372.0 405.4L372.3 407.4L372.6 407.1L372.9 405.1L373.1 404.0L373.4 409.6L373.7 407.1L374.0 403.6L374.2 406.0L374.5 406.5L374.8 404.8L375.1 408.0L375.4 408.1L375.6 405.9L375.9 403.1L376.2 404.1L376.5 405.9L376.8 404.1L377.0 406.6L377.3 408.0L377.6 408.9L377.9 405.4L378.1 404.3L378.4 405.2L378.7 406.0L379.0 406.6L379.3 403.9L379.5 406.0L379.8 408.5L380.1 403.4L380.4 407.1L380.6 405.2L380.9 405.9L381.2 404.0L381.5 405.5L381.8 403.7L382.0 405.5L382.3 406.7L382.6 406.8L382.9 404.7L383.2 407.4L383.4 404.2L383.7 406.3L384.0 407.6L384.3 407.5L384.5 406.2L384.8 402.7L385.1 404.5L385.4 405.9L385.7 407.5L385.9 402.5L386.2 406.4L386.5 405.9L386.8 406.7L387.0 403.5L387.3 405.6L387.6 406.7L387.9 405.6L388.2 407.7L388.4 407.8L388.7 406.2L389.0 411.1L389.3 403.8L389.6 402.3L389.8 407.9L390.1 406.2L390.4 408.7L390.7 405.6L390.9 405.5L391.2 404.6L391.5 408.3L391.8 407.0L392.1 407.1L392.3 406.3L392.6 401.8L392.9 406.3L393.2 406.0L393.4 406.8L393.7 404.5L394.0 401.3L394.3 403.8L394.6 403.1L394.8 407.8L395.1 404.0L395.4 405.8L395.7 403.6L396.0 404.0L396.2 404.7L396.5 408.9L396.8 405.7L397.1 406.8L397.3 405.1L397.6 405.8L397.9 404.0L398.2 408.8L398.5 407.2L398.7 406.0L399.0 405.3L399.3 406.6L399.6 406.0L399.8 405.8L400.1 404.0L400.4 406.1L400.7 405.5L401.0 409.2L401.2 410.6L401.5 408.5L401.8 405.3L402.1 410.1L402.4 405.2L402.6 406.1L402.9 405.9L403.2 407.2L403.5 406.7L403.7 404.4L404.0 405.3L404.3 405.9L404.6 406.8L404.9 405.5L405.1 403.7L405.4 405.9L405.7 406.6L406.0 408.0L406.2 405.7L406.5 407.6L406.8 408.5L407.1 404.3L407.4 407.0" fill="none" stroke="#000" stroke-width="0.85" stroke-linejoin="round"/>
<path d="M353.5 417.9L353.9 414.4L354.3 408.3L354.6 412.0L355.0 414.2L355.3 413.4L355.7 409.2L356.0 409.5L356.4 409.6L356.8 410.1L357.1 408.3L357.5 405.8L357.8 407.8L358.2 409.1L358.5 411.6L358.9 407.6M359.3 405.1L359.6 407.0L360.0 410.9L360.3 407.7L360.7 405.3L361.1 409.2M361.4 406.7L361.8 405.1L362.1 404.1L362.5 410.8L362.8 411.0L363.2 406.4L363.6 405.6L363.9 407.8M364.3 406.9L364.6 407.6L365.0 404.1L365.3 411.2L365.7 405.9L366.1 409.0L366.4 407.7L366.8 409.4L367.1 407.9M367.5 406.0L367.9 405.8L368.2 402.1L368.6 406.4L368.9 405.2L369.3 405.2L369.6 405.4L370.0 402.8L370.4 405.6L370.7 405.6L371.1 406.1L371.4 405.9L371.8 406.0L372.1 403.8M372.5 405.9L372.9 405.8L373.2 406.0L373.6 404.3M373.9 406.9L374.3 403.9L374.6 407.1L375.0 404.4L375.4 401.8L375.7 405.4L376.1 406.1L376.4 408.4L376.8 404.3L377.2 405.9L377.5 404.0L377.9 407.3L378.2 404.8L378.6 402.1L378.9 405.1L379.3 406.6M379.7 408.7L380.0 405.9L380.4 404.5L380.7 404.6L381.1 408.3L381.4 408.1L381.8 408.0L382.2 408.1L382.5 406.5L382.9 405.3L383.2 401.8L383.6 405.5L383.9 402.8L384.3 409.4L384.7 402.6M385.0 404.2L385.4 405.0L385.7 404.2L386.1 404.6L386.5 401.9L386.8 404.2L387.2 409.6L387.5 409.6L387.9 402.5L388.2 406.1L388.6 403.1L389.0 406.6L389.3 407.3L389.7 406.6L390.0 405.2L390.4 405.5L390.7 407.2M391.1 404.8L391.5 404.6L391.8 407.8L392.2 408.3L392.5 410.1L392.9 406.5L393.3 405.9L393.6 407.4L394.0 407.2L394.3 406.2L394.7 405.8L395.0 404.7L395.4 404.1L395.8 405.0L396.1 403.5L396.5 407.9L396.8 404.6M397.2 405.1L397.5 408.1L397.9 407.3L398.3 405.0L398.6 405.7L399.0 408.6L399.3 407.1L399.7 402.7L400.0 404.1L400.4 405.7L400.8 403.0L401.1 407.8L401.5 406.3L401.8 403.9L402.2 406.6L402.6 408.3L402.9 404.7L403.3 402.5M403.6 411.3L404.0 405.6L404.3 408.5L404.7 406.5L405.1 408.9L405.4 400.4L405.8 407.3L406.1 405.8L406.5 407.4M406.8 408.0L407.2 406.9M407.6 405.5" fill="none" stroke="#000" stroke-width="0.8" stroke-linejoin="round"/>
<text transform="translate(0.90 516.00) scale(1 1)" font-size="24.5" text-anchor="start" font-weight="bold" >E</text>
<line x1="44.90" y1="517.38" x2="44.90" y2="750.90" stroke="#000" stroke-width="1.25"/>
<line x1="44.30" y1="750.30" x2="189.80" y2="750.30" stroke="#000" stroke-width="1.25"/>
<line x1="39.70" y1="750.30" x2="44.90" y2="750.30" stroke="#000" stroke-width="1.1"/>
<text transform="translate(37.90 754.15) scale(1.06 1)" font-size="10.6" text-anchor="end" font-weight="normal" >0</text>
<line x1="40.70" y1="729.18" x2="44.90" y2="729.18" stroke="#000" stroke-width="1.1"/>
<line x1="39.70" y1="708.06" x2="44.90" y2="708.06" stroke="#000" stroke-width="1.1"/>
<text transform="translate(37.90 711.91) scale(1.06 1)" font-size="10.6" text-anchor="end" font-weight="normal" >0.2</text>
<line x1="40.70" y1="686.94" x2="44.90" y2="686.94" stroke="#000" stroke-width="1.1"/>
<line x1="39.70" y1="665.82" x2="44.90" y2="665.82" stroke="#000" stroke-width="1.1"/>
<text transform="translate(37.90 669.67) scale(1.06 1)" font-size="10.6" text-anchor="end" font-weight="normal" >0.4</text>
<line x1="40.70" y1="644.70" x2="44.90" y2="644.70" stroke="#000" stroke-width="1.1"/>
<line x1="39.70" y1="623.58" x2="44.90" y2="623.58" stroke="#000" stroke-width="1.1"/>
<text transform="translate(37.90 627.43) scale(1.06 1)" font-size="10.6" text-anchor="end" font-weight="normal" >0.6</text>
<line x1="40.70" y1="602.46" x2="44.90" y2="602.46" stroke="#000" stroke-width="1.1"/>
<line x1="39.70" y1="581.34" x2="44.90" y2="581.34" stroke="#000" stroke-width="1.1"/>
<text transform="translate(37.90 585.19) scale(1.06 1)" font-size="10.6" text-anchor="end" font-weight="normal" >0.8</text>
<line x1="40.70" y1="560.22" x2="44.90" y2="560.22" stroke="#000" stroke-width="1.1"/>
<line x1="39.70" y1="539.10" x2="44.90" y2="539.10" stroke="#000" stroke-width="1.1"/>
<text transform="translate(37.90 542.95) scale(1.06 1)" font-size="10.6" text-anchor="end" font-weight="normal" >1.0</text>
<line x1="40.70" y1="517.98" x2="44.90" y2="517.98" stroke="#000" stroke-width="1.1"/>
<line x1="44.90" y1="750.30" x2="44.90" y2="753.50" stroke="#000" stroke-width="1.1"/>
<text transform="translate(45.20 764.50) scale(1.06 1)" font-size="10.6" text-anchor="middle" font-weight="normal" >0</text>
<line x1="93.00" y1="750.30" x2="93.00" y2="753.50" stroke="#000" stroke-width="1.1"/>
<text transform="translate(93.40 764.50) scale(1.06 1)" font-size="10.6" text-anchor="middle" font-weight="normal" >50</text>
<line x1="141.10" y1="750.30" x2="141.10" y2="753.50" stroke="#000" stroke-width="1.1"/>
<text transform="translate(141.90 764.50) scale(1.06 1)" font-size="10.6" text-anchor="middle" font-weight="normal" >100</text>
<line x1="189.20" y1="750.30" x2="189.20" y2="753.50" stroke="#000" stroke-width="1.1"/>
<text transform="translate(191.60 764.50) scale(1.06 1)" font-size="10.6" text-anchor="middle" font-weight="normal" >150</text>
<text transform="translate(10.40 635.60) rotate(-90) scale(1 1.06)" font-size="10.95" text-anchor="middle">Fluorescence (AU)</text>
<text transform="translate(120.60 779.20) scale(1.04 1)" font-size="10.45" text-anchor="middle" font-weight="normal" >Time (sec)</text>
<text transform="translate(54.70 589.60)" font-size="14.1" word-spacing="-0.5">+ Ca<tspan font-size="13.4" dy="-1.9">++</tspan></text>
<text transform="translate(184.00 544.20) scale(1.04 1)" font-size="10.45" text-anchor="start" font-weight="normal" >ST1926</text>
<text transform="translate(184.00 601.80) scale(1.04 1)" font-size="10.45" text-anchor="start" font-weight="normal" >ST1926 +</text>
<text transform="translate(184.00 612.90) scale(1.04 1)" font-size="10.45" text-anchor="start" font-weight="normal" >nicardipine</text>
<text transform="translate(184.00 623.90) scale(1.04 1)" font-size="10.45" text-anchor="start" font-weight="normal" >(10 <tspan font-style="italic">µ</tspan>M)</text>
<text transform="translate(184.00 675.00) scale(1.04 1)" font-size="10.45" text-anchor="start" font-weight="normal" >ST1926 +</text>
<text transform="translate(184.00 685.80) scale(1.04 1)" font-size="10.45" text-anchor="start" font-weight="normal" >nicardipine</text>
<text transform="translate(184.00 697.00) scale(1.04 1)" font-size="10.45" text-anchor="start" font-weight="normal" >(100 <tspan font-style="italic">µ</tspan>M)</text>
<path d="M55.50 686.60Q58.40 682.70 59.70 677.60L59.20 677.10L56.55 678.20L56.55 664.30L54.45 664.30L54.45 678.20L51.80 677.10L51.30 677.60Q52.60 682.70 55.50 686.60Z" fill="#000"/>
<path d="M131.20 686.60Q134.10 682.70 135.40 677.60L134.90 677.10L132.25 678.20L132.25 664.30L130.15 664.30L130.15 678.20L127.50 677.10L127.00 677.60Q128.30 682.70 131.20 686.60Z" fill="#000"/>
<path d="M44.9 712.7L45.1 739.2L45.3 722.8L45.5 721.2L45.7 724.8L45.9 713.0L46.1 719.5L46.2 719.8L46.4 708.7L46.6 723.1L46.8 718.7L47.0 728.3L47.2 722.6L47.4 722.1L47.6 725.7L47.8 698.8L48.0 719.9L48.2 718.1L48.4 710.7L48.6 719.8L48.7 707.6L48.9 719.1L49.1 723.8L49.3 719.0L49.5 717.9L49.7 718.5L49.9 728.1L50.1 711.3L50.3 729.0L50.5 724.3L50.7 732.8L50.9 727.1L51.1 724.2L51.2 722.7L51.4 715.2L51.6 720.0L51.8 718.4L52.0 725.4L52.2 720.9L52.4 715.1L52.6 720.1L52.8 726.1L53.0 715.4L53.2 729.2L53.4 706.2L53.6 723.2L53.8 716.3L53.9 726.0L54.1 714.5L54.3 718.0L54.5 708.2L54.7 725.3L54.9 716.1L55.1 723.2L55.3 731.3L55.5 725.0L55.7 718.2L55.9 731.1L56.1 719.0L56.3 713.5L56.4 719.2L56.6 721.8L56.8 720.6L57.0 721.7L57.2 721.4L57.4 723.3L57.6 721.4L57.8 716.2L58.0 725.6L58.2 728.8L58.4 718.6L58.6 729.0L58.8 712.3L58.9 724.1L59.1 714.6L59.3 722.9L59.5 712.0L59.7 725.7L59.9 718.7L60.1 723.2L60.3 719.2L60.5 726.5L60.7 716.5L60.9 720.8L61.1 716.8L61.3 727.0L61.4 720.7L61.6 716.6L61.8 717.1L62.0 722.5L62.2 721.8L62.4 716.3L62.6 722.1L62.8 720.3L63.0 718.9L63.2 719.2L63.4 728.2L63.6 704.4L63.8 719.5L63.9 723.5L64.1 727.2L64.3 719.3L64.5 716.8L64.7 728.5L64.9 714.1L65.1 722.7L65.3 720.7L65.5 715.0L65.7 723.9L65.9 720.2L66.1 713.2L66.3 709.3L66.4 717.1L66.6 728.6L66.8 716.0L67.0 720.1L67.2 723.8L67.4 722.1L67.6 721.9L67.8 720.0L68.0 714.0L68.2 717.8L68.4 719.5L68.6 720.1L68.8 723.8L68.9 715.1L69.1 721.9L69.3 714.8L69.5 719.9L69.7 708.9L69.9 721.6L70.1 726.6L70.3 721.6L70.5 723.4L70.7 726.0L70.9 714.5L71.1 718.5L71.3 712.5L71.5 725.1L71.6 723.1L71.8 739.7L72.0 714.9L72.2 718.2L72.4 719.7L72.6 732.6L72.8 713.4L73.0 722.8L73.2 718.1L73.4 726.5L73.6 722.6L73.8 716.9L74.0 724.1L74.1 706.0L74.3 721.3L74.5 718.7L74.7 727.4L74.9 714.5L75.1 725.2L75.3 718.5L75.5 725.6L75.7 721.2L75.9 728.7L76.1 720.7L76.3 718.0L76.5 715.2L76.6 722.5L76.8 716.3L77.0 717.1L77.2 717.5L77.4 729.0L77.6 722.7L77.8 728.1L78.0 722.8L78.2 716.8L78.4 710.7L78.6 724.3L78.8 713.1L79.0 713.5L79.1 721.9L79.3 717.4L79.5 729.7L79.7 728.7L79.9 724.6L80.1 719.8L80.3 720.2L80.5 723.7L80.7 717.7L80.9 724.8L81.1 720.2L81.3 722.2L81.5 715.0L81.6 726.2L81.8 717.2L82.0 724.6L82.2 716.1L82.4 718.2L82.6 725.8L82.8 712.1L83.0 721.6L83.2 711.1L83.4 722.5L83.6 717.9L83.8 719.9L84.0 725.1L84.1 724.6L84.3 716.7L84.5 715.6L84.7 716.1L84.9 724.7L85.1 723.6L85.3 722.0L85.5 723.8L85.7 725.0L85.9 725.9L86.1 719.8L86.3 718.7L86.5 716.6L86.7 721.0L86.8 721.1L87.0 722.5L87.2 720.2L87.4 724.8L87.6 716.5L87.8 711.0L88.0 717.6L88.2 720.9L88.4 717.3L88.6 724.8L88.8 715.8L89.0 712.8L89.2 718.6L89.3 719.2L89.5 720.1L89.7 731.0L89.9 729.5L90.1 708.5L90.3 719.2L90.5 711.7L90.7 717.9L90.9 721.7L91.1 719.2L91.3 721.0L91.5 722.9L91.7 722.9L91.8 731.2L92.0 728.0L92.2 714.3L92.4 723.1L92.6 722.3L92.8 716.2L93.0 721.5L93.2 715.7L93.4 727.2L93.6 718.2L93.8 726.7L94.0 719.4L94.2 720.0L94.3 719.1L94.5 721.8L94.7 715.0L94.9 714.3L95.1 725.0L95.3 723.5L95.5 725.1L95.7 721.4L95.9 714.7L96.1 715.5L96.3 724.3L96.5 721.3L96.7 729.4L96.8 722.5L97.0 720.2L97.2 728.5L97.4 718.5L97.6 716.2L97.8 723.8L98.0 718.9L98.2 723.0L98.4 718.5L98.6 724.5L98.8 704.7L99.0 721.0L99.2 719.6L99.3 718.5L99.5 705.2L99.7 716.5L99.9 722.1L100.1 714.1L100.3 720.1L100.5 720.4L100.7 720.6L100.9 725.6L101.1 718.1L101.3 719.1L101.5 725.7L101.7 720.2L101.9 740.3L102.0 721.1L102.2 721.2L102.4 713.7L102.6 726.8L102.8 721.4L103.0 717.9L103.2 716.6L103.4 746.6L103.6 719.7L103.8 718.9L104.0 720.0L104.2 720.6L104.4 715.5L104.5 717.4L104.7 732.1L104.9 719.5L105.1 711.5L105.3 724.9L105.5 718.0L105.7 716.4L105.9 723.1L106.1 722.7L106.3 719.1L106.5 721.8L106.7 722.3L106.9 722.5L107.0 721.1L107.2 726.1L107.4 720.0L107.6 720.8L107.8 720.9L108.0 724.0L108.2 720.0L108.4 721.8L108.6 723.0L108.8 721.9L109.0 716.5L109.2 722.7L109.4 734.7L109.5 723.4L109.7 731.3L109.9 725.9L110.1 720.3L110.3 722.4L110.5 719.9L110.7 720.7L110.9 719.4L111.1 714.3L111.3 718.8L111.5 710.2L111.7 723.5L111.9 717.1L112.0 715.0L112.2 725.7L112.4 720.6L112.6 717.6L112.8 716.4L113.0 721.8L113.2 722.2L113.4 721.3L113.6 715.1L113.8 721.0L114.0 714.9L114.2 723.8L114.4 722.6L114.5 725.1L114.7 717.6L114.9 720.3L115.1 719.3L115.3 721.5L115.5 718.9L115.7 725.1L115.9 726.2L116.1 714.8L116.3 719.7L116.5 718.1L116.7 714.4L116.9 726.2L117.1 711.2L117.2 714.2L117.4 714.8L117.6 715.3L117.8 724.1L118.0 713.5L118.2 721.2L118.4 720.6L118.6 723.0L118.8 722.2L119.0 712.4L119.2 729.8L119.4 714.7L119.6 715.0L119.7 711.0L119.9 722.0L120.1 720.5L120.3 724.2L120.5 715.4L120.7 724.0L120.9 714.1L121.1 713.6L121.3 721.9L121.5 710.1L121.7 716.4L121.9 709.7L122.1 724.5L122.2 720.4L122.4 718.2L122.6 716.3L122.8 719.5L123.0 718.5L123.2 717.8L123.4 718.2L123.6 718.3L123.8 711.7L124.0 717.6L124.2 722.4L124.4 720.7L124.6 720.7L124.7 727.1L124.9 716.0L125.1 724.5L125.3 719.3L125.5 713.0L125.7 720.2L125.9 723.1L126.1 714.2L126.3 726.1L126.5 724.1L126.7 718.0L126.9 711.5L127.1 724.2L127.2 727.1L127.4 721.8L127.6 726.8L127.8 720.7L128.0 718.3L128.2 726.6L128.4 721.4L128.6 715.7L128.8 712.2L129.0 719.8L129.2 717.3L129.4 721.0L129.6 726.5L129.7 713.0L129.9 714.5L130.1 713.1L130.3 727.0L130.5 718.0L130.7 719.4L130.9 728.3L131.1 715.7L131.3 727.0L131.5 719.4L131.7 719.9L131.9 719.2L132.1 717.8L132.2 712.6L132.4 719.7L132.6 715.0L132.8 716.4L133.0 719.3L133.2 724.8L133.4 725.3L133.6 719.3L133.8 723.0L134.0 717.8L134.2 716.7L134.4 720.2L134.6 722.8L134.8 717.7" fill="none" stroke="#000" stroke-width="1.0" stroke-linejoin="round"/>
<path d="M44.9 720.8L45.1 721.7L45.3 722.4L45.5 720.6L45.7 720.9L45.9 720.7L46.1 722.0L46.2 721.8L46.4 733.0L46.6 718.4L46.8 727.6L47.0 719.7L47.2 726.8L47.4 723.0L47.6 714.3L47.8 706.0L48.0 729.1L48.2 717.4L48.4 717.2L48.6 734.7L48.7 716.9L48.9 723.9L49.1 733.5L49.3 727.1L49.5 729.3L49.7 718.2L49.9 721.0L50.1 728.8L50.3 714.5L50.5 722.2L50.7 716.1L50.9 716.7L51.1 724.7L51.2 727.3L51.4 710.3L51.6 709.1L51.8 719.9L52.0 718.8L52.2 722.4L52.4 723.7L52.6 727.1L52.8 728.5L53.0 714.2L53.2 720.1L53.4 726.7L53.6 717.3L53.8 728.9L53.9 721.1L54.1 716.7L54.3 722.2L54.5 719.7L54.7 715.9L54.9 731.3L55.1 724.7L55.3 719.2L55.5 717.9L55.7 721.8L55.9 722.1L56.1 717.5L56.3 720.1L56.4 719.3L56.6 718.2L56.8 728.5L57.0 716.5L57.2 716.2L57.4 716.8L57.6 722.3L57.8 726.7L58.0 725.0L58.2 721.3L58.4 732.6L58.6 714.0L58.8 720.4L58.9 729.1L59.1 721.3L59.3 718.3L59.5 717.9L59.7 713.6L59.9 714.1L60.1 727.3L60.3 711.3L60.5 740.9L60.7 719.3L60.9 727.1L61.1 715.6L61.3 717.7L61.4 717.9L61.6 715.1L61.8 715.5L62.0 731.2L62.2 725.1L62.4 718.0L62.6 721.1L62.8 717.7L63.0 716.3L63.2 724.7L63.4 721.7L63.6 725.4L63.8 705.7L63.9 721.1L64.1 712.9L64.3 725.3L64.5 721.3L64.7 718.2L64.9 724.2L65.1 724.4L65.3 713.8L65.5 717.4L65.7 719.8L65.9 711.5L66.1 714.7L66.3 717.8L66.4 724.0L66.6 723.3L66.8 722.3L67.0 728.5L67.2 722.8L67.4 724.1L67.6 714.2L67.8 717.1L68.0 711.5L68.2 719.9L68.4 716.4L68.6 716.6L68.8 723.4L68.9 715.5L69.1 716.0L69.3 722.1L69.5 721.1L69.7 725.4L69.9 724.5L70.1 721.1L70.3 716.0L70.5 719.6L70.7 724.4L70.9 718.4L71.1 720.6L71.3 718.4L71.5 714.7L71.6 717.9L71.8 727.9L72.0 725.0L72.2 718.7L72.4 718.3L72.6 719.0L72.8 720.0L73.0 721.4L73.2 724.7L73.4 732.5L73.6 711.8L73.8 723.4L74.0 698.7L74.1 715.3L74.3 725.8L74.5 719.1L74.7 730.8L74.9 727.5L75.1 712.0L75.3 714.0L75.5 714.1L75.7 723.1L75.9 720.5L76.1 726.6L76.3 720.6L76.5 725.4L76.6 720.7L76.8 716.7L77.0 720.5L77.2 728.9L77.4 724.3L77.6 718.5L77.8 722.5L78.0 704.2L78.2 727.7L78.4 713.6L78.6 717.5L78.8 715.2L79.0 721.8L79.1 724.3L79.3 725.9L79.5 714.0L79.7 715.6L79.9 712.2L80.1 715.0L80.3 717.0L80.5 721.5L80.7 715.1L80.9 721.3L81.1 726.6L81.3 725.5L81.5 722.0L81.6 717.4L81.8 715.2L82.0 713.9L82.2 717.6L82.4 717.8L82.6 722.7L82.8 727.3L83.0 723.0L83.2 712.9L83.4 724.9L83.6 724.5L83.8 729.4L84.0 729.1L84.1 719.4L84.3 725.5L84.5 716.0L84.7 727.8L84.9 732.1L85.1 716.3L85.3 717.6L85.5 711.1L85.7 724.5L85.9 730.5L86.1 713.4L86.3 712.4L86.5 717.9L86.7 717.3L86.8 721.8L87.0 725.8L87.2 720.8L87.4 721.0L87.6 723.0L87.8 720.2L88.0 718.0L88.2 720.3L88.4 722.1L88.6 716.8L88.8 725.9L89.0 717.8L89.2 720.5L89.3 723.8L89.5 718.9L89.7 719.2L89.9 719.7L90.1 716.9L90.3 716.5L90.5 707.7L90.7 722.8L90.9 715.9L91.1 715.5L91.3 718.4L91.5 718.0L91.7 720.0L91.8 717.3L92.0 728.4L92.2 720.7L92.4 718.2L92.6 723.0L92.8 721.9L93.0 719.4L93.2 723.2L93.4 728.4L93.6 718.6L93.8 719.8L94.0 718.1L94.2 717.9L94.3 723.9L94.5 712.6L94.7 710.8L94.9 718.3L95.1 716.3L95.3 719.4L95.5 719.1L95.7 704.6L95.9 722.2L96.1 720.0L96.3 726.0L96.5 719.3L96.7 725.4L96.8 719.3L97.0 724.2L97.2 713.2L97.4 727.3L97.6 713.2L97.8 723.3L98.0 717.2L98.2 714.4L98.4 718.9L98.6 715.4L98.8 723.9L99.0 721.6L99.2 727.7L99.3 714.3L99.5 727.6L99.7 725.7L99.9 720.1L100.1 732.7L100.3 716.6L100.5 717.6L100.7 721.7L100.9 725.0L101.1 723.5L101.3 722.0L101.5 724.1L101.7 729.8L101.9 743.9L102.0 723.5L102.2 716.5L102.4 723.0L102.6 721.3L102.8 728.7L103.0 722.9L103.2 716.9L103.4 707.0L103.6 714.8L103.8 722.5L104.0 723.1L104.2 724.1L104.4 716.3L104.5 716.0L104.7 725.4L104.9 719.9L105.1 719.7L105.3 717.7L105.5 714.7L105.7 720.3L105.9 724.4L106.1 720.8L106.3 719.2L106.5 726.2L106.7 723.4L106.9 707.8L107.0 719.3L107.2 711.8L107.4 735.0L107.6 723.3L107.8 719.3L108.0 717.0L108.2 721.3L108.4 716.1L108.6 721.6L108.8 719.5L109.0 718.6L109.2 725.6L109.4 722.2L109.5 719.9L109.7 721.9L109.9 716.8L110.1 726.0L110.3 715.7L110.5 719.1L110.7 720.8L110.9 723.8L111.1 718.8L111.3 709.3L111.5 720.6L111.7 725.2L111.9 722.2L112.0 713.1L112.2 727.2L112.4 721.0L112.6 726.6L112.8 722.8L113.0 721.9L113.2 719.5L113.4 713.4L113.6 729.9L113.8 723.9L114.0 716.4L114.2 721.2L114.4 720.8L114.5 726.4L114.7 727.7L114.9 721.3L115.1 722.5L115.3 721.3L115.5 714.5L115.7 720.6L115.9 721.5L116.1 712.5L116.3 719.9L116.5 710.5L116.7 718.6L116.9 721.1L117.1 712.4L117.2 722.0L117.4 714.8L117.6 716.1L117.8 711.9L118.0 714.9L118.2 722.7L118.4 724.1L118.6 717.9L118.8 722.6L119.0 717.8L119.2 718.6L119.4 718.2L119.6 712.7L119.7 713.7L119.9 723.3L120.1 712.4L120.3 714.4L120.5 722.8L120.7 715.2L120.9 710.4L121.1 703.5L121.3 724.9L121.5 734.5L121.7 721.2L121.9 717.4L122.1 720.5L122.2 706.9L122.4 723.1L122.6 716.7L122.8 724.9L123.0 719.6L123.2 716.7L123.4 719.2L123.6 721.4L123.8 715.8L124.0 721.8L124.2 718.9L124.4 715.2L124.6 721.3L124.7 710.3L124.9 716.9L125.1 722.9L125.3 721.9L125.5 713.9L125.7 720.4L125.9 724.9L126.1 714.8L126.3 712.8L126.5 718.7L126.7 718.3L126.9 718.8L127.1 717.0L127.2 723.7L127.4 722.4L127.6 718.5L127.8 713.4L128.0 737.2L128.2 725.8L128.4 718.7L128.6 721.9L128.8 717.4L129.0 718.2L129.2 716.3L129.4 721.2L129.6 716.1L129.7 721.2L129.9 729.9L130.1 724.5L130.3 721.1L130.5 720.1L130.7 714.8L130.9 715.2L131.1 715.8L131.3 727.7L131.5 732.9L131.7 722.7L131.9 722.9L132.1 720.6L132.2 724.0L132.4 717.7L132.6 718.1L132.8 721.4L133.0 728.5L133.2 724.5L133.4 720.8L133.6 721.7L133.8 718.4L134.0 714.1L134.2 721.4L134.4 714.8L134.6 718.5L134.8 722.7" fill="none" stroke="#000" stroke-width="1.0" stroke-linejoin="round"/>
<path d="M44.9 721.3L45.1 726.8L45.3 715.7L45.5 716.0L45.7 725.9L45.9 716.7L46.1 725.5L46.2 710.0L46.4 721.4L46.6 721.8L46.8 725.3L47.0 717.1L47.2 723.7L47.4 718.4L47.6 717.9L47.8 723.7L48.0 721.2L48.2 719.0L48.4 726.7L48.6 726.7L48.7 715.8L48.9 721.2L49.1 717.7L49.3 718.9L49.5 720.5L49.7 721.7L49.9 718.9L50.1 720.8L50.3 718.1L50.5 721.9L50.7 724.9L50.9 708.9L51.1 727.0L51.2 726.0L51.4 717.7L51.6 719.8L51.8 730.8L52.0 721.8L52.2 721.6L52.4 715.1L52.6 725.8L52.8 719.4L53.0 722.2L53.2 722.4L53.4 723.7L53.6 718.5L53.8 721.9L53.9 711.0L54.1 723.9L54.3 729.0L54.5 718.9L54.7 726.2L54.9 721.1L55.1 719.8L55.3 716.5L55.5 715.9L55.7 714.6L55.9 726.9L56.1 731.7L56.3 712.4L56.4 723.3L56.6 715.6L56.8 715.2L57.0 725.0L57.2 724.1L57.4 717.4L57.6 722.7L57.8 738.4L58.0 721.7L58.2 720.5L58.4 719.9L58.6 719.9L58.8 720.3L58.9 720.6L59.1 724.1L59.3 721.5L59.5 724.2L59.7 720.2L59.9 715.7L60.1 716.5L60.3 719.1L60.5 725.1L60.7 716.7L60.9 719.3L61.1 721.8L61.3 726.0L61.4 722.5L61.6 717.5L61.8 723.3L62.0 716.0L62.2 724.9L62.4 723.7L62.6 714.2L62.8 718.3L63.0 716.9L63.2 728.5L63.4 718.8L63.6 723.9L63.8 714.2L63.9 721.4L64.1 713.1L64.3 722.0L64.5 719.6L64.7 721.6L64.9 720.4L65.1 712.9L65.3 711.1L65.5 720.6L65.7 722.6L65.9 709.2L66.1 718.7L66.3 720.7L66.4 729.5L66.6 700.8L66.8 717.9L67.0 718.4L67.2 730.5L67.4 719.9L67.6 723.0L67.8 723.0L68.0 714.4L68.2 725.7L68.4 725.8L68.6 713.8L68.8 721.3L68.9 721.5L69.1 716.8L69.3 717.3L69.5 724.6L69.7 721.2L69.9 726.3L70.1 711.7L70.3 723.1L70.5 715.9L70.7 725.1L70.9 715.2L71.1 721.7L71.3 710.2L71.5 724.3L71.6 722.1L71.8 723.4L72.0 728.5L72.2 714.8L72.4 713.6L72.6 723.0L72.8 713.0L73.0 712.4L73.2 720.8L73.4 721.9L73.6 724.7L73.8 722.7L74.0 709.2L74.1 726.0L74.3 716.9L74.5 716.5L74.7 723.3L74.9 723.0L75.1 717.9L75.3 720.3L75.5 723.0L75.7 723.2L75.9 728.1L76.1 719.4L76.3 715.1L76.5 718.3L76.6 720.0L76.8 715.4L77.0 723.5L77.2 719.0L77.4 723.4L77.6 704.6L77.8 720.1L78.0 727.2L78.2 715.2L78.4 722.5L78.6 716.7L78.8 718.5L79.0 718.7L79.1 714.1L79.3 716.0L79.5 727.4L79.7 720.6L79.9 713.1L80.1 719.5L80.3 727.7L80.5 721.4L80.7 720.4L80.9 729.7L81.1 725.5L81.3 715.3L81.5 715.6L81.6 721.9L81.8 714.6L82.0 712.2L82.2 718.8L82.4 718.4L82.6 723.2L82.8 719.1L83.0 728.8L83.2 717.9L83.4 717.5L83.6 728.5L83.8 713.0L84.0 725.0L84.1 722.3L84.3 721.2L84.5 722.3L84.7 712.4L84.9 718.0L85.1 722.1L85.3 714.7L85.5 716.4L85.7 712.9L85.9 729.3L86.1 716.3L86.3 723.0L86.5 723.1L86.7 728.0L86.8 710.6L87.0 722.9L87.2 717.4L87.4 731.2L87.6 721.9L87.8 719.9L88.0 710.2L88.2 715.9L88.4 722.4L88.6 715.0L88.8 720.4L89.0 723.1L89.2 722.4L89.3 728.0L89.5 721.1L89.7 718.0L89.9 717.0L90.1 722.7L90.3 717.3L90.5 725.4L90.7 721.7L90.9 724.6L91.1 720.5L91.3 719.5L91.5 727.4L91.7 719.3L91.8 720.5L92.0 721.5L92.2 711.2L92.4 722.1L92.6 727.5L92.8 717.0L93.0 712.5L93.2 720.6L93.4 726.3L93.6 719.9L93.8 714.2L94.0 720.6L94.2 730.0L94.3 724.4L94.5 720.4L94.7 712.8L94.9 720.0L95.1 721.3L95.3 720.0L95.5 716.2L95.7 719.4L95.9 718.5L96.1 726.6L96.3 715.6L96.5 722.3L96.7 721.5L96.8 719.5L97.0 713.3L97.2 730.1L97.4 723.2L97.6 720.8L97.8 726.5L98.0 719.7L98.2 727.1L98.4 715.9L98.6 722.8L98.8 721.8L99.0 717.6L99.2 718.0L99.3 707.4L99.5 723.2L99.7 719.1L99.9 722.7L100.1 717.2L100.3 722.6L100.5 720.7L100.7 716.2L100.9 727.7L101.1 717.7L101.3 719.3L101.5 725.1L101.7 714.7L101.9 722.3L102.0 718.8L102.2 717.6L102.4 727.5L102.6 719.3L102.8 717.6L103.0 724.2L103.2 721.8L103.4 719.7L103.6 725.0L103.8 718.1L104.0 717.3L104.2 719.8L104.4 721.2L104.5 717.7L104.7 724.3L104.9 720.8L105.1 710.6L105.3 714.8L105.5 729.1L105.7 718.0L105.9 737.3L106.1 721.2L106.3 718.9L106.5 723.4L106.7 724.1L106.9 712.9L107.0 720.7L107.2 721.8L107.4 726.5L107.6 718.4L107.8 725.2L108.0 724.3L108.2 713.2L108.4 718.2L108.6 715.5L108.8 720.4L109.0 730.2L109.2 719.7L109.4 718.6L109.5 724.5L109.7 723.7L109.9 722.8L110.1 718.7L110.3 726.2L110.5 725.3L110.7 717.0L110.9 722.1L111.1 725.5L111.3 717.9L111.5 725.1L111.7 721.2L111.9 722.6L112.0 735.2L112.2 723.8L112.4 723.0L112.6 718.2L112.8 716.4L113.0 712.5L113.2 718.4L113.4 726.4L113.6 723.7L113.8 715.1L114.0 715.3L114.2 743.4L114.4 716.3L114.5 715.3L114.7 715.7L114.9 716.3L115.1 718.6L115.3 721.4L115.5 717.9L115.7 723.4L115.9 718.6L116.1 720.8L116.3 721.7L116.5 730.0L116.7 716.8L116.9 722.0L117.1 718.8L117.2 715.4L117.4 715.6L117.6 722.3L117.8 721.3L118.0 710.5L118.2 717.9L118.4 710.5L118.6 714.0L118.8 721.9L119.0 709.1L119.2 712.6L119.4 724.5L119.6 717.5L119.7 718.0L119.9 723.5L120.1 721.6L120.3 724.0L120.5 717.9L120.7 715.4L120.9 714.6L121.1 719.3L121.3 719.1L121.5 718.7L121.7 717.0L121.9 718.2L122.1 721.5L122.2 723.5L122.4 717.1L122.6 723.0L122.8 722.3L123.0 727.4L123.2 720.4L123.4 714.1L123.6 715.3L123.8 721.4L124.0 722.9L124.2 716.0L124.4 723.7L124.6 717.7L124.7 715.8L124.9 718.8L125.1 727.6L125.3 721.4L125.5 720.4L125.7 720.1L125.9 723.5L126.1 724.9L126.3 712.9L126.5 710.8L126.7 714.3L126.9 720.0L127.1 718.8L127.2 726.7L127.4 726.4L127.6 727.4L127.8 713.2L128.0 727.1L128.2 717.2L128.4 717.4L128.6 722.9L128.8 719.7L129.0 714.4L129.2 722.4L129.4 714.7L129.6 717.8L129.7 716.8L129.9 724.8L130.1 716.7L130.3 717.3L130.5 725.4L130.7 714.9L130.9 720.3L131.1 726.7L131.3 723.3L131.5 723.4L131.7 725.6L131.9 723.2L132.1 723.0L132.2 725.1L132.4 732.3L132.6 719.3L132.8 720.7L133.0 716.9L133.2 722.9L133.4 718.2L133.6 714.2L133.8 715.6L134.0 719.7L134.2 718.4L134.4 724.9L134.6 716.4L134.8 714.5" fill="none" stroke="#000" stroke-width="1.0" stroke-linejoin="round"/>
<path d="M134.8 716.0L135.1 722.2L135.3 714.2L135.5 713.9L135.8 719.9L136.0 714.9L136.2 721.7L136.5 694.7L136.7 670.4L136.9 650.0L137.2 638.6L137.4 636.4L137.6 633.8L137.8 633.1L138.1 630.3L138.3 633.7L138.5 643.2L138.8 623.7L139.0 626.2L139.2 626.7L139.5 623.8L139.7 627.6L139.9 617.1L140.2 626.8L140.4 626.0L140.6 615.4L140.8 623.0L141.1 630.0L141.3 605.8L141.5 611.9L141.8 621.9L142.0 630.6L142.2 609.7L142.5 621.8L142.7 606.5L142.9 612.6L143.2 609.9L143.4 608.6L143.6 618.5L143.9 618.1L144.1 606.7L144.3 612.4L144.5 602.8L144.8 606.2L145.0 592.7L145.2 604.5L145.5 608.6L145.7 601.4L145.9 606.6L146.2 595.9L146.4 599.5L146.6 607.1L146.9 594.8L147.1 587.0L147.3 589.8L147.5 592.8L147.8 605.8L148.0 590.3L148.2 591.5L148.5 588.1L148.7 600.5L148.9 580.2L149.2 583.4L149.4 590.9L149.6 576.7L149.9 589.0L150.1 592.9L150.3 587.4L150.5 597.5L150.8 596.8L151.0 585.8L151.2 591.8L151.5 576.1L151.7 590.4L151.9 594.4L152.2 596.5L152.4 599.7L152.6 586.9L152.9 584.3L153.1 587.9L153.3 584.6L153.5 587.7L153.8 574.6L154.0 589.6L154.2 588.1L154.5 577.1L154.7 586.6L154.9 589.1L155.2 588.9L155.4 579.0L155.6 571.1L155.9 582.3L156.1 576.3L156.3 589.1L156.5 587.3L156.8 580.7L157.0 573.1L157.2 588.6L157.5 578.0L157.7 597.5L157.9 572.2L158.2 586.3L158.4 579.4L158.6 584.2L158.9 584.4L159.1 586.8L159.3 585.4L159.6 587.0L159.8 577.7L160.0 590.1L160.2 589.6L160.5 575.4L160.7 584.1L160.9 583.8L161.2 574.9L161.4 588.4L161.6 576.9L161.9 581.2L162.1 576.0L162.3 587.7L162.6 581.0L162.8 579.9L163.0 588.9L163.2 583.6L163.5 581.9L163.7 574.8L163.9 580.4L164.2 570.1L164.4 579.4L164.6 586.7L164.9 573.9L165.1 581.1L165.3 569.9L165.6 571.3L165.8 574.9L166.0 576.6L166.2 594.6L166.5 571.7L166.7 578.9L166.9 583.4L167.2 576.0L167.4 571.0L167.6 571.9L167.9 581.1L168.1 577.9L168.3 579.6L168.6 572.6L168.8 580.8L169.0 569.0L169.2 574.0L169.5 563.8L169.7 578.8L169.9 606.3L170.2 573.7L170.4 577.1L170.6 565.5L170.9 569.8L171.1 573.5L171.3 575.1L171.6 558.2L171.8 575.1L172.0 565.9L172.2 595.0L172.5 566.7L172.7 569.9L172.9 559.6L173.2 568.6L173.4 569.6L173.6 570.4L173.9 574.7L174.1 576.0L174.3 574.1L174.6 583.2L174.8 573.0L175.0 567.9L175.3 563.7L175.5 567.9L175.7 582.9L175.9 575.9L176.2 571.6L176.4 567.3L176.6 569.7L176.9 573.5L177.1 572.0L177.3 586.4L177.6 556.6L177.8 559.9L178.0 569.1L178.3 569.7L178.5 560.9L178.7 569.4L178.9 560.7L179.2 563.0L179.4 568.1L179.6 577.1L179.9 568.8L180.1 566.9L180.3 571.7L180.6 568.8L180.8 574.6L181.0 574.1L181.3 564.8L181.5 568.2L181.7 572.0L181.9 570.2L182.2 568.1L182.4 551.2L182.6 573.8L182.9 558.2L183.1 564.2L183.3 553.8L183.6 564.9L183.8 567.0L184.0 563.4L184.3 570.8L184.5 565.5L184.7 555.3L184.9 559.1L185.2 574.1L185.4 568.1L185.6 571.3L185.9 562.4L186.1 566.1L186.3 551.5L186.6 567.4L186.8 567.9L187.0 586.4L187.3 564.9L187.5 556.5L187.7 570.9L187.9 567.5L188.2 546.1L188.4 572.7L188.6 565.2L188.9 563.9L189.1 574.1L189.3 563.8L189.6 570.1" fill="none" stroke="#000" stroke-width="1.1" stroke-linejoin="round"/>
<path d="M134.8 715.2L135.1 721.0L135.3 717.4L135.5 711.7L135.8 716.8L136.0 715.2L136.2 714.2L136.5 700.0L136.7 688.7L136.9 692.7L137.2 673.1L137.4 676.1L137.6 675.6L137.8 676.7L138.1 671.4L138.3 679.0L138.5 671.9L138.8 673.1L139.0 667.0L139.2 666.2L139.5 670.8L139.7 675.5L139.9 674.1L140.2 672.3L140.4 665.3L140.6 666.9L140.8 670.9L141.1 666.4L141.3 671.5L141.5 674.1L141.8 662.2L142.0 665.5L142.2 671.6L142.5 674.2L142.7 675.7L142.9 663.8L143.2 668.2L143.4 660.6L143.6 657.4L143.9 672.6L144.1 663.4L144.3 657.0L144.5 663.6L144.8 661.0L145.0 660.4L145.2 668.1L145.5 659.1L145.7 655.8L145.9 654.9L146.2 651.9L146.4 655.0L146.6 645.8L146.9 651.9L147.1 647.6L147.3 648.8L147.5 648.3L147.8 652.4L148.0 644.9L148.2 647.4L148.5 649.1L148.7 652.4L148.9 654.8L149.2 647.6L149.4 645.4L149.6 645.5L149.9 658.3L150.1 643.5L150.3 654.7L150.5 649.5L150.8 654.5L151.0 640.6L151.2 652.2L151.5 648.0L151.7 641.6L151.9 645.8L152.2 636.2L152.4 648.0L152.6 638.3L152.9 648.2L153.1 654.0L153.3 642.3L153.5 638.5L153.8 639.8L154.0 642.5L154.2 639.8L154.5 635.2L154.7 640.2L154.9 642.9L155.2 642.1L155.4 643.8L155.6 637.2L155.9 655.2L156.1 643.7L156.3 654.9L156.5 641.6L156.8 638.8L157.0 640.2L157.2 638.7L157.5 641.8L157.7 625.4L157.9 640.7L158.2 647.3L158.4 634.5L158.6 650.0L158.9 636.5L159.1 637.8L159.3 640.9L159.6 633.6L159.8 629.6L160.0 636.4L160.2 647.5L160.5 640.2L160.7 640.3L160.9 635.0L161.2 629.4L161.4 635.7L161.6 642.4L161.9 637.2L162.1 638.5L162.3 640.5L162.6 630.8L162.8 626.1L163.0 637.2L163.2 639.9L163.5 635.8L163.7 638.1L163.9 630.4L164.2 632.2L164.4 644.4L164.6 641.4L164.9 629.0L165.1 632.1L165.3 648.3L165.6 642.5L165.8 636.6L166.0 635.0L166.2 646.2L166.5 631.5L166.7 631.9L166.9 639.0L167.2 630.9L167.4 640.6L167.6 631.3L167.9 651.4L168.1 643.8L168.3 634.3L168.6 643.8L168.8 631.6L169.0 636.9L169.2 640.6L169.5 642.0L169.7 636.9L169.9 644.3L170.2 634.8L170.4 628.8L170.6 635.9L170.9 636.3L171.1 636.7L171.3 624.8L171.6 637.7L171.8 635.6L172.0 641.2L172.2 643.5L172.5 642.9L172.7 638.7L172.9 632.9L173.2 635.7L173.4 631.8L173.6 640.3L173.9 644.7L174.1 642.5L174.3 642.0L174.6 635.3L174.8 638.3L175.0 641.5L175.3 633.7L175.5 637.6L175.7 639.4L175.9 637.0L176.2 627.3L176.4 634.8L176.6 634.7L176.9 640.4L177.1 634.4L177.3 630.0L177.6 627.4L177.8 627.6L178.0 626.9L178.3 646.8L178.5 626.8L178.7 630.3L178.9 627.8L179.2 631.6L179.4 643.0L179.6 631.8L179.9 635.5L180.1 635.4L180.3 635.5L180.6 634.0L180.8 631.5L181.0 628.5L181.3 639.0L181.5 635.8L181.7 628.7L181.9 638.7L182.2 634.8L182.4 626.2L182.6 640.5L182.9 625.7L183.1 633.3L183.3 633.1L183.6 633.4L183.8 637.7L184.0 633.6L184.3 635.1L184.5 645.8L184.7 634.3L184.9 637.8L185.2 638.6L185.4 631.1L185.6 638.6L185.9 634.8L186.1 623.5L186.3 642.0L186.6 635.2L186.8 629.4L187.0 634.8L187.3 628.5L187.5 642.9L187.7 630.5L187.9 634.7L188.2 635.3L188.4 628.5L188.6 628.9L188.9 632.3L189.1 644.2L189.3 631.9L189.6 629.3" fill="none" stroke="#000" stroke-width="1.1" stroke-linejoin="round"/>
<path d="M134.8 722.4L135.1 725.7L135.3 722.1L135.5 718.0L135.8 723.4L136.0 723.3L136.2 719.8L136.5 710.8L136.7 714.1L136.9 721.9L137.2 711.1L137.4 722.9L137.6 719.0L137.8 717.9L138.1 706.5L138.3 722.3L138.5 713.0L138.8 716.0L139.0 710.0L139.2 710.5L139.5 715.2L139.7 712.2L139.9 716.1L140.2 707.2L140.4 717.8L140.6 720.7L140.8 721.5L141.1 717.3L141.3 711.1L141.5 714.4L141.8 718.0L142.0 714.0L142.2 718.0L142.5 714.5L142.7 712.7L142.9 708.0L143.2 720.1L143.4 716.1L143.6 712.3L143.9 707.2L144.1 699.2L144.3 694.4L144.5 700.1L144.8 712.4L145.0 706.1L145.2 696.6L145.5 697.2L145.7 705.3L145.9 708.0L146.2 709.3L146.4 711.4L146.6 710.4L146.9 710.2L147.1 722.6L147.3 721.9L147.5 708.8L147.8 715.3L148.0 717.8L148.2 715.9L148.5 715.9L148.7 720.7L148.9 710.2L149.2 715.0L149.4 725.5L149.6 712.5L149.9 710.0L150.1 714.7L150.3 719.8L150.5 715.3L150.8 721.3L151.0 717.1L151.2 711.3L151.5 718.1L151.7 711.3L151.9 715.6L152.2 718.5L152.4 710.5L152.6 722.8L152.9 716.7L153.1 712.6L153.3 715.1L153.5 707.4L153.8 712.1L154.0 716.2L154.2 710.6L154.5 712.7L154.7 715.5L154.9 721.0L155.2 711.5L155.4 705.7L155.6 713.2L155.9 714.3L156.1 714.2L156.3 720.2L156.5 714.4L156.8 713.7L157.0 715.3L157.2 717.9L157.5 720.3L157.7 722.2L157.9 707.8L158.2 715.0L158.4 711.4L158.6 704.6L158.9 721.2L159.1 719.0L159.3 720.1L159.6 711.3L159.8 720.0L160.0 716.3L160.2 720.4L160.5 720.4L160.7 709.9L160.9 716.4L161.2 708.1L161.4 714.0L161.6 717.2L161.9 716.8L162.1 717.5L162.3 708.3L162.6 707.3L162.8 719.6L163.0 713.4L163.2 712.1L163.5 711.2L163.7 719.3L163.9 711.6L164.2 705.4L164.4 710.2L164.6 717.3L164.9 713.1L165.1 718.1L165.3 712.6L165.6 707.5L165.8 720.7L166.0 717.1L166.2 719.1L166.5 715.6L166.7 716.9L166.9 710.0L167.2 717.5L167.4 714.8L167.6 707.9L167.9 718.7L168.1 715.1L168.3 719.1L168.6 710.0L168.8 711.6L169.0 719.7L169.2 718.3L169.5 715.7L169.7 714.8L169.9 714.4L170.2 711.9L170.4 711.6L170.6 716.4L170.9 705.8L171.1 715.9L171.3 710.4L171.6 719.9L171.8 708.3L172.0 709.8L172.2 716.2L172.5 709.7L172.7 712.0L172.9 711.3L173.2 713.6L173.4 709.4L173.6 719.1L173.9 714.7L174.1 718.4L174.3 715.0L174.6 711.1L174.8 707.4L175.0 711.3L175.3 710.2L175.5 715.8L175.7 717.7L175.9 712.1L176.2 710.3L176.4 714.2L176.6 712.5L176.9 712.7L177.1 709.9L177.3 712.9L177.6 711.5L177.8 709.5L178.0 707.7L178.3 713.6L178.5 705.2L178.7 712.4L178.9 707.6L179.2 717.5L179.4 714.0L179.6 717.8L179.9 704.2L180.1 708.0L180.3 715.1L180.6 707.7L180.8 708.6L181.0 712.5L181.3 705.3L181.5 714.3L181.7 710.9L181.9 713.0L182.2 707.3L182.4 703.5L182.6 710.4L182.9 702.7L183.1 711.2L183.3 703.2L183.6 706.2L183.8 711.3L184.0 705.5L184.3 712.7L184.5 701.6L184.7 706.6L184.9 699.9L185.2 708.5L185.4 697.8L185.6 704.7L185.9 700.8L186.1 710.8L186.3 700.2L186.6 705.0L186.8 702.3L187.0 703.1L187.3 705.4L187.5 702.9L187.7 703.1L187.9 707.1L188.2 699.6L188.4 703.8L188.6 705.2L188.9 706.4L189.1 709.0L189.3 698.5L189.6 707.5" fill="none" stroke="#000" stroke-width="1.1" stroke-linejoin="round"/>
<text transform="translate(258.80 516.90) scale(1 1)" font-size="24.5" text-anchor="start" font-weight="bold" >F</text>
<line x1="296.00" y1="524.50" x2="296.00" y2="708.80" stroke="#000" stroke-width="1.3"/>
<line x1="295.40" y1="708.20" x2="461.30" y2="708.20" stroke="#000" stroke-width="1.3"/>
<line x1="293.60" y1="708.20" x2="296.00" y2="708.20" stroke="#000" stroke-width="1.1"/>
<text transform="translate(292.10 712.10) scale(1.04 1)" font-size="10.8" text-anchor="end" font-weight="normal" >0</text>
<line x1="293.60" y1="662.40" x2="296.00" y2="662.40" stroke="#000" stroke-width="1.1"/>
<text transform="translate(292.10 666.30) scale(1.04 1)" font-size="10.8" text-anchor="end" font-weight="normal" >0.2</text>
<line x1="293.60" y1="616.60" x2="296.00" y2="616.60" stroke="#000" stroke-width="1.1"/>
<text transform="translate(292.10 620.50) scale(1.04 1)" font-size="10.8" text-anchor="end" font-weight="normal" >0.4</text>
<line x1="293.60" y1="570.80" x2="296.00" y2="570.80" stroke="#000" stroke-width="1.1"/>
<text transform="translate(292.10 574.70) scale(1.04 1)" font-size="10.8" text-anchor="end" font-weight="normal" >0.6</text>
<line x1="293.60" y1="525.00" x2="296.00" y2="525.00" stroke="#000" stroke-width="1.1"/>
<text transform="translate(292.10 528.90) scale(1.04 1)" font-size="10.8" text-anchor="end" font-weight="normal" >0.8</text>
<text transform="translate(266.60 616.20) rotate(-90) scale(1 1.06)" font-size="10.95" text-anchor="middle">Fluorescence (ΔAU)</text>
<defs><pattern id="h" width="3.9" height="3.9" patternUnits="userSpaceOnUse" patternTransform="rotate(-48)"><rect width="3.9" height="3.9" fill="#fff"/><line x1="1.95" y1="-1" x2="1.95" y2="5" stroke="#000" stroke-width="1.35"/></pattern></defs>
<rect x="297.30" y="706.50" width="11.90" height="1.7" fill="#000"/>
<text transform="translate(306.65 703.20) rotate(-90) scale(1.15 1)" font-size="8.3">&lt;0.01</text>
<rect x="309.80" y="529.40" width="10.20" height="178.80" fill="#000" stroke="#000" stroke-width="1.2"/>
<line x1="314.90" y1="529.30" x2="314.90" y2="526.30" stroke="#000" stroke-width="1.2"/>
<line x1="312.10" y1="526.30" x2="317.70" y2="526.30" stroke="#000" stroke-width="1.2"/>
<circle cx="314.90" cy="520.40" r="2.0" fill="none" stroke="#000" stroke-width="1.3"/>
<rect x="332.30" y="706.50" width="12.00" height="1.7" fill="#000"/>
<text transform="translate(341.70 703.20) rotate(-90) scale(1.15 1)" font-size="8.3">&lt;0.01</text>
<rect x="344.90" y="609.70" width="10.80" height="98.50" fill="url(#h)" stroke="#000" stroke-width="1.2"/>
<line x1="350.30" y1="609.60" x2="350.30" y2="600.30" stroke="#000" stroke-width="1.2"/>
<line x1="347.50" y1="600.30" x2="353.10" y2="600.30" stroke="#000" stroke-width="1.2"/>
<text x="350.50" y="602.40" font-size="15" font-family="DejaVu Sans, sans-serif" text-anchor="middle">*</text>
<circle cx="350.30" cy="586.30" r="2.0" fill="none" stroke="#000" stroke-width="1.3"/>
<rect x="356.30" y="681.70" width="9.40" height="26.50" fill="url(#h)" stroke="#000" stroke-width="1.2"/>
<line x1="361.00" y1="681.60" x2="361.00" y2="664.50" stroke="#000" stroke-width="1.2"/>
<line x1="358.20" y1="664.50" x2="363.80" y2="664.50" stroke="#000" stroke-width="1.2"/>
<text x="361.20" y="666.40" font-size="15" font-family="DejaVu Sans, sans-serif" text-anchor="middle">*</text>
<rect x="376.00" y="706.50" width="11.30" height="1.7" fill="#000"/>
<text transform="translate(385.05 703.20) rotate(-90) scale(1.15 1)" font-size="8.3">&lt;0.01</text>
<rect x="387.90" y="623.80" width="11.00" height="84.40" fill="#b4b4b4" stroke="#000" stroke-width="1.2"/>
<line x1="393.40" y1="623.70" x2="393.40" y2="618.40" stroke="#000" stroke-width="1.2"/>
<line x1="390.60" y1="618.40" x2="396.20" y2="618.40" stroke="#000" stroke-width="1.2"/>
<text x="393.60" y="620.30" font-size="15" font-family="DejaVu Sans, sans-serif" text-anchor="middle">*</text>
<circle cx="393.40" cy="605.10" r="2.0" fill="none" stroke="#000" stroke-width="1.3"/>
<rect x="399.50" y="706.50" width="11.50" height="1.7" fill="#000"/>
<text transform="translate(408.65 703.20) rotate(-90) scale(1.15 1)" font-size="8.3">&lt;0.01</text>
<rect x="418.60" y="706.50" width="11.60" height="1.7" fill="#000"/>
<text transform="translate(427.80 703.20) rotate(-90) scale(1.15 1)" font-size="8.3">&lt;0.01</text>
<rect x="430.50" y="554.70" width="9.90" height="153.50" fill="#fff" stroke="#000" stroke-width="1.2"/>
<line x1="435.45" y1="554.60" x2="435.45" y2="547.90" stroke="#000" stroke-width="1.2"/>
<line x1="432.65" y1="547.90" x2="438.25" y2="547.90" stroke="#000" stroke-width="1.2"/>
<circle cx="435.45" cy="542.40" r="2.0" fill="none" stroke="#000" stroke-width="1.3"/>
<text x="435.65" y="542.40" font-size="15" font-family="DejaVu Sans, sans-serif" text-anchor="middle">*</text>
<rect x="440.60" y="635.70" width="10.30" height="72.50" fill="#fff" stroke="#000" stroke-width="1.2"/>
<line x1="445.75" y1="635.60" x2="445.75" y2="630.60" stroke="#000" stroke-width="1.2"/>
<line x1="442.95" y1="630.60" x2="448.55" y2="630.60" stroke="#000" stroke-width="1.2"/>
<text x="445.95" y="632.70" font-size="15" font-family="DejaVu Sans, sans-serif" text-anchor="middle">*</text>
<circle cx="445.75" cy="617.60" r="2.0" fill="none" stroke="#000" stroke-width="1.3"/>
<rect x="302.20" y="723.20" width="3" height="1.2" fill="#000"/>
<rect x="313.50" y="723.20" width="3" height="1.2" fill="#000"/>
<text transform="translate(337.60 726.40) scale(1.04 1)" font-size="7.2" text-anchor="middle" font-weight="normal" letter-spacing="-0.3">100</text>
<text transform="translate(349.00 726.40) scale(1.04 1)" font-size="7.2" text-anchor="middle" font-weight="normal" letter-spacing="-0.3">10</text>
<text transform="translate(361.20 726.40) scale(1.04 1)" font-size="7.2" text-anchor="middle" font-weight="normal" letter-spacing="-0.3">100</text>
<rect x="380.10" y="723.20" width="3" height="1.2" fill="#000"/>
<rect x="391.80" y="723.20" width="3" height="1.2" fill="#000"/>
<rect x="402.70" y="723.20" width="3" height="1.2" fill="#000"/>
<rect x="422.70" y="723.20" width="3" height="1.2" fill="#000"/>
<rect x="433.30" y="723.20" width="3" height="1.2" fill="#000"/>
<rect x="445.10" y="723.20" width="3" height="1.2" fill="#000"/>
<rect x="302.20" y="740.20" width="3" height="1.2" fill="#000"/>
<rect x="313.50" y="740.20" width="3" height="1.2" fill="#000"/>
<rect x="336.10" y="740.20" width="3" height="1.2" fill="#000"/>
<rect x="347.50" y="740.20" width="3" height="1.2" fill="#000"/>
<rect x="359.70" y="740.20" width="3" height="1.2" fill="#000"/>
<text transform="translate(381.60 743.40) scale(1.04 1)" font-size="7.2" text-anchor="middle" font-weight="normal" letter-spacing="-0.3">100</text>
<text transform="translate(393.30 743.40) scale(1.04 1)" font-size="7.2" text-anchor="middle" font-weight="normal" letter-spacing="-0.3">10</text>
<text transform="translate(404.20 743.40) scale(1.04 1)" font-size="7.2" text-anchor="middle" font-weight="normal" letter-spacing="-0.3">100</text>
<rect x="422.70" y="740.20" width="3" height="1.2" fill="#000"/>
<rect x="433.30" y="740.20" width="3" height="1.2" fill="#000"/>
<rect x="445.10" y="740.20" width="3" height="1.2" fill="#000"/>
<rect x="302.20" y="757.10" width="3" height="1.2" fill="#000"/>
<rect x="313.50" y="757.10" width="3" height="1.2" fill="#000"/>
<rect x="336.10" y="757.10" width="3" height="1.2" fill="#000"/>
<rect x="347.50" y="757.10" width="3" height="1.2" fill="#000"/>
<rect x="359.70" y="757.10" width="3" height="1.2" fill="#000"/>
<rect x="380.10" y="757.10" width="3" height="1.2" fill="#000"/>
<rect x="391.80" y="757.10" width="3" height="1.2" fill="#000"/>
<rect x="402.70" y="757.10" width="3" height="1.2" fill="#000"/>
<text transform="translate(424.20 760.30) scale(1.04 1)" font-size="7.2" text-anchor="middle" font-weight="normal" letter-spacing="-0.3">100</text>
<text transform="translate(434.80 760.30) scale(1.04 1)" font-size="7.2" text-anchor="middle" font-weight="normal" letter-spacing="-0.3">10</text>
<text transform="translate(446.60 760.30) scale(1.04 1)" font-size="7.2" text-anchor="middle" font-weight="normal" letter-spacing="-0.3">100</text>
<rect x="302.20" y="774.10" width="3" height="1.2" fill="#000"/>
<text transform="translate(315.00 777.60) scale(1.04 1)" font-size="8" text-anchor="middle" font-weight="normal" >1</text>
<rect x="336.10" y="774.10" width="3" height="1.2" fill="#000"/>
<text transform="translate(349.00 777.60) scale(1.04 1)" font-size="8" text-anchor="middle" font-weight="normal" >1</text>
<text transform="translate(361.20 777.60) scale(1.04 1)" font-size="8" text-anchor="middle" font-weight="normal" >1</text>
<rect x="380.10" y="774.10" width="3" height="1.2" fill="#000"/>
<text transform="translate(393.30 777.60) scale(1.04 1)" font-size="8" text-anchor="middle" font-weight="normal" >1</text>
<text transform="translate(404.20 777.60) scale(1.04 1)" font-size="8" text-anchor="middle" font-weight="normal" >1</text>
<rect x="422.70" y="774.10" width="3" height="1.2" fill="#000"/>
<text transform="translate(434.80 777.60) scale(1.04 1)" font-size="8" text-anchor="middle" font-weight="normal" >1</text>
<text transform="translate(446.60 777.60) scale(1.04 1)" font-size="8" text-anchor="middle" font-weight="normal" >1</text>
<text transform="translate(461.80 727.40) scale(1.04 1)" font-size="10.45" text-anchor="start" font-weight="normal" >nitrendipine</text>
<text transform="translate(461.80 743.80) scale(1.04 1)" font-size="10.45" text-anchor="start" font-weight="normal" >nicardipine</text>
<text transform="translate(461.80 760.40) scale(1.04 1)" font-size="10.45" text-anchor="start" font-weight="normal" >nimodipine</text>
<text transform="translate(461.80 777.00) scale(1.04 1)" font-size="10.45" text-anchor="start" font-weight="normal" >ST1926</text>
</svg>
</body></html>
